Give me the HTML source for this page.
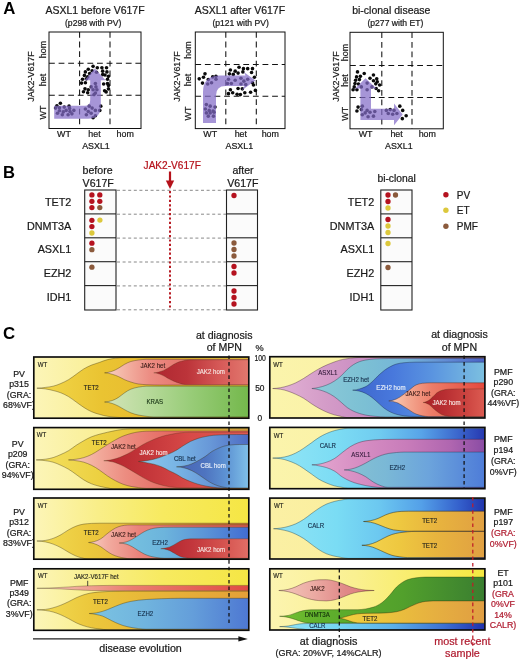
<!DOCTYPE html>
<html><head><meta charset="utf-8"><title>Figure</title>
<style>html,body{margin:0;padding:0;background:#fff}svg{display:block;will-change:transform}text{font-family:"Liberation Sans",sans-serif}</style></head>
<body>
<svg width="520" height="660" viewBox="0 0 520 660">
<rect width="520" height="660" fill="#ffffff"/>
<defs>
<linearGradient id="g1" gradientUnits="userSpaceOnUse" x1="33.8" y1="0" x2="248.8" y2="0"><stop offset="0" stop-color="#fcf5b8"/><stop offset="0.35" stop-color="#f9ee90"/><stop offset="1" stop-color="#f4dc40"/></linearGradient>
<linearGradient id="g2" gradientUnits="userSpaceOnUse" x1="37" y1="0" x2="248.8" y2="0"><stop offset="0" stop-color="#f2d84c"/><stop offset="0.3" stop-color="#eac432"/><stop offset="0.6" stop-color="#e8b92e"/><stop offset="1" stop-color="#f0cc40"/></linearGradient>
<linearGradient id="g3" gradientUnits="userSpaceOnUse" x1="104" y1="0" x2="248.8" y2="0"><stop offset="0" stop-color="#f8d4c4"/><stop offset="0.12" stop-color="#f4b8a8"/><stop offset="0.32" stop-color="#ec8c82"/><stop offset="0.6" stop-color="#e4706a"/><stop offset="1" stop-color="#e26c66"/></linearGradient>
<linearGradient id="g4" gradientUnits="userSpaceOnUse" x1="154" y1="0" x2="248.8" y2="0"><stop offset="0" stop-color="#ae2730"/><stop offset="0.35" stop-color="#bc343a"/><stop offset="0.7" stop-color="#d65a58"/><stop offset="1" stop-color="#e2786e"/></linearGradient>
<linearGradient id="g5" gradientUnits="userSpaceOnUse" x1="104" y1="0" x2="248.8" y2="0"><stop offset="0" stop-color="#d4e4b8"/><stop offset="0.25" stop-color="#bcdca0"/><stop offset="0.6" stop-color="#98cc78"/><stop offset="1" stop-color="#74b84c"/></linearGradient>
<linearGradient id="g6" gradientUnits="userSpaceOnUse" x1="33.8" y1="0" x2="248.8" y2="0"><stop offset="0" stop-color="#fcf5b8"/><stop offset="0.35" stop-color="#f9ee90"/><stop offset="1" stop-color="#f4dc40"/></linearGradient>
<linearGradient id="g7" gradientUnits="userSpaceOnUse" x1="37" y1="0" x2="248.8" y2="0"><stop offset="0" stop-color="#f4e060"/><stop offset="0.3" stop-color="#ecd040"/><stop offset="0.55" stop-color="#e8c038"/><stop offset="1" stop-color="#e8a848"/></linearGradient>
<linearGradient id="g8" gradientUnits="userSpaceOnUse" x1="68" y1="0" x2="248.8" y2="0"><stop offset="0" stop-color="#f8d0c0"/><stop offset="0.12" stop-color="#f4b4a4"/><stop offset="0.32" stop-color="#ec8c80"/><stop offset="0.6" stop-color="#e4645e"/><stop offset="1" stop-color="#e05a54"/></linearGradient>
<linearGradient id="g9" gradientUnits="userSpaceOnUse" x1="104" y1="0" x2="248.8" y2="0"><stop offset="0" stop-color="#b4262e"/><stop offset="0.3" stop-color="#c4363a"/><stop offset="0.6" stop-color="#d84a48"/><stop offset="1" stop-color="#e05852"/></linearGradient>
<linearGradient id="g10" gradientUnits="userSpaceOnUse" x1="138" y1="0" x2="248.8" y2="0"><stop offset="0" stop-color="#8cc8ec"/><stop offset="0.35" stop-color="#78b4e4"/><stop offset="0.65" stop-color="#6898d8"/><stop offset="1" stop-color="#4e6cc4"/></linearGradient>
<linearGradient id="g11" gradientUnits="userSpaceOnUse" x1="176" y1="0" x2="248.8" y2="0"><stop offset="0" stop-color="#4864b4"/><stop offset="0.4" stop-color="#4e74c0"/><stop offset="0.7" stop-color="#5e94d4"/><stop offset="1" stop-color="#80c0e8"/></linearGradient>
<linearGradient id="g12" gradientUnits="userSpaceOnUse" x1="33.8" y1="0" x2="248.8" y2="0"><stop offset="0" stop-color="#fcf5b8"/><stop offset="0.3" stop-color="#f9ee88"/><stop offset="0.6" stop-color="#f7ea60"/><stop offset="1" stop-color="#f5e644"/></linearGradient>
<linearGradient id="g13" gradientUnits="userSpaceOnUse" x1="37" y1="0" x2="248.8" y2="0"><stop offset="0" stop-color="#f2dc54"/><stop offset="0.25" stop-color="#ecc83c"/><stop offset="0.5" stop-color="#e6b43a"/><stop offset="1" stop-color="#c8643a"/></linearGradient>
<linearGradient id="g14" gradientUnits="userSpaceOnUse" x1="88" y1="0" x2="248.8" y2="0"><stop offset="0" stop-color="#f8d0c4"/><stop offset="0.12" stop-color="#f2aca0"/><stop offset="0.32" stop-color="#ea827a"/><stop offset="1" stop-color="#dc5a50"/></linearGradient>
<linearGradient id="g15" gradientUnits="userSpaceOnUse" x1="119" y1="0" x2="248.8" y2="0"><stop offset="0" stop-color="#78c4e0"/><stop offset="0.35" stop-color="#6cb4dc"/><stop offset="0.65" stop-color="#5c96d8"/><stop offset="1" stop-color="#416cd2"/></linearGradient>
<linearGradient id="g16" gradientUnits="userSpaceOnUse" x1="161" y1="0" x2="248.8" y2="0"><stop offset="0" stop-color="#b2262e"/><stop offset="0.35" stop-color="#c2363c"/><stop offset="0.7" stop-color="#d4524e"/><stop offset="1" stop-color="#e26e66"/></linearGradient>
<linearGradient id="g17" gradientUnits="userSpaceOnUse" x1="33.8" y1="0" x2="248.8" y2="0"><stop offset="0" stop-color="#fcf5b8"/><stop offset="0.3" stop-color="#f9ee88"/><stop offset="0.6" stop-color="#f7ea60"/><stop offset="1" stop-color="#f5e644"/></linearGradient>
<linearGradient id="g18" gradientUnits="userSpaceOnUse" x1="37" y1="0" x2="248.8" y2="0"><stop offset="0" stop-color="#f2dc54"/><stop offset="0.25" stop-color="#ecc83c"/><stop offset="0.5" stop-color="#e8b838"/><stop offset="1" stop-color="#e4a038"/></linearGradient>
<linearGradient id="g19" gradientUnits="userSpaceOnUse" x1="37" y1="0" x2="248.8" y2="0"><stop offset="0" stop-color="#f6d0c0"/><stop offset="0.2" stop-color="#f0a898"/><stop offset="0.45" stop-color="#ea7c70"/><stop offset="1" stop-color="#e04c44"/></linearGradient>
<linearGradient id="g20" gradientUnits="userSpaceOnUse" x1="89" y1="0" x2="248.8" y2="0"><stop offset="0" stop-color="#7cc4e2"/><stop offset="0.35" stop-color="#70b4de"/><stop offset="0.65" stop-color="#649eda"/><stop offset="1" stop-color="#4e78d2"/></linearGradient>
<linearGradient id="g21" gradientUnits="userSpaceOnUse" x1="269.8" y1="0" x2="484.9" y2="0"><stop offset="0" stop-color="#fbf4ac"/><stop offset="1" stop-color="#f9ee98"/></linearGradient>
<linearGradient id="g22" gradientUnits="userSpaceOnUse" x1="272" y1="0" x2="484.9" y2="0"><stop offset="0" stop-color="#e4b4d6"/><stop offset="0.25" stop-color="#d49cc8"/><stop offset="0.5" stop-color="#c688c0"/><stop offset="1" stop-color="#8060b0"/></linearGradient>
<linearGradient id="g23" gradientUnits="userSpaceOnUse" x1="312" y1="0" x2="484.9" y2="0"><stop offset="0" stop-color="#8ccad8"/><stop offset="0.3" stop-color="#7cc0d4"/><stop offset="0.55" stop-color="#74b4d8"/><stop offset="0.8" stop-color="#6088d4"/><stop offset="1" stop-color="#4a62c4"/></linearGradient>
<linearGradient id="g24" gradientUnits="userSpaceOnUse" x1="353" y1="0" x2="484.9" y2="0"><stop offset="0" stop-color="#3e66cc"/><stop offset="0.3" stop-color="#4878dc"/><stop offset="0.6" stop-color="#5a94e0"/><stop offset="1" stop-color="#7cc0e0"/></linearGradient>
<linearGradient id="g25" gradientUnits="userSpaceOnUse" x1="389" y1="0" x2="484.9" y2="0"><stop offset="0" stop-color="#fad4bc"/><stop offset="0.2" stop-color="#f4a890"/><stop offset="0.45" stop-color="#ec7c68"/><stop offset="1" stop-color="#e4483c"/></linearGradient>
<linearGradient id="g26" gradientUnits="userSpaceOnUse" x1="423" y1="0" x2="484.9" y2="0"><stop offset="0" stop-color="#a82228"/><stop offset="0.35" stop-color="#b82e32"/><stop offset="0.7" stop-color="#cc4440"/><stop offset="1" stop-color="#dc5c52"/></linearGradient>
<linearGradient id="g27" gradientUnits="userSpaceOnUse" x1="269.8" y1="0" x2="484.9" y2="0"><stop offset="0" stop-color="#fbf4ac"/><stop offset="1" stop-color="#f9ee98"/></linearGradient>
<linearGradient id="g28" gradientUnits="userSpaceOnUse" x1="273" y1="0" x2="484.9" y2="0"><stop offset="0" stop-color="#92e6f6"/><stop offset="0.3" stop-color="#7cdcf4"/><stop offset="0.5" stop-color="#70ccf0"/><stop offset="0.7" stop-color="#58a4e8"/><stop offset="0.88" stop-color="#3a64cc"/><stop offset="1" stop-color="#2638b0"/></linearGradient>
<linearGradient id="g29" gradientUnits="userSpaceOnUse" x1="312" y1="0" x2="484.9" y2="0"><stop offset="0" stop-color="#e4a8d0"/><stop offset="0.25" stop-color="#d890c4"/><stop offset="0.55" stop-color="#c87cba"/><stop offset="0.8" stop-color="#b066b0"/><stop offset="1" stop-color="#8a4ca4"/></linearGradient>
<linearGradient id="g30" gradientUnits="userSpaceOnUse" x1="344" y1="0" x2="484.9" y2="0"><stop offset="0" stop-color="#86c2d2"/><stop offset="0.3" stop-color="#7ab8d6"/><stop offset="0.6" stop-color="#6ca4dc"/><stop offset="1" stop-color="#4e7cd8"/></linearGradient>
<linearGradient id="g31" gradientUnits="userSpaceOnUse" x1="269.8" y1="0" x2="484.9" y2="0"><stop offset="0" stop-color="#fbf0a4"/><stop offset="1" stop-color="#f9ea90"/></linearGradient>
<linearGradient id="g32" gradientUnits="userSpaceOnUse" x1="273" y1="0" x2="484.9" y2="0"><stop offset="0" stop-color="#90e4f6"/><stop offset="0.3" stop-color="#7adcf4"/><stop offset="0.5" stop-color="#6cc8f0"/><stop offset="0.7" stop-color="#54a0e8"/><stop offset="0.88" stop-color="#3460cc"/><stop offset="1" stop-color="#2034ac"/></linearGradient>
<linearGradient id="g33" gradientUnits="userSpaceOnUse" x1="363" y1="0" x2="484.9" y2="0"><stop offset="0" stop-color="#f4d450"/><stop offset="0.3" stop-color="#eec840"/><stop offset="0.6" stop-color="#e8b43e"/><stop offset="1" stop-color="#e0a042"/></linearGradient>
<linearGradient id="g34" gradientUnits="userSpaceOnUse" x1="362" y1="0" x2="484.9" y2="0"><stop offset="0" stop-color="#f4d450"/><stop offset="0.3" stop-color="#eec840"/><stop offset="0.6" stop-color="#e8b43e"/><stop offset="1" stop-color="#e0a042"/></linearGradient>
<linearGradient id="g35" gradientUnits="userSpaceOnUse" x1="269.8" y1="0" x2="484.9" y2="0"><stop offset="0" stop-color="#fcf4b0"/><stop offset="0.4" stop-color="#faf090"/><stop offset="0.75" stop-color="#f8ec60"/><stop offset="1" stop-color="#f5e840"/></linearGradient>
<linearGradient id="g36" gradientUnits="userSpaceOnUse" x1="279" y1="0" x2="374" y2="0"><stop offset="0" stop-color="#f4c8bc"/><stop offset="0.35" stop-color="#ecaca4"/><stop offset="0.7" stop-color="#e08888"/><stop offset="1" stop-color="#dc7c7c"/></linearGradient>
<linearGradient id="g37" gradientUnits="userSpaceOnUse" x1="280" y1="0" x2="484.9" y2="0"><stop offset="0" stop-color="#74c030"/><stop offset="0.2" stop-color="#60b02c"/><stop offset="0.6" stop-color="#52a02c"/><stop offset="1" stop-color="#3a7e30"/></linearGradient>
<linearGradient id="g38" gradientUnits="userSpaceOnUse" x1="339" y1="0" x2="484.9" y2="0"><stop offset="0" stop-color="#f0d040"/><stop offset="0.3" stop-color="#ecc43c"/><stop offset="0.65" stop-color="#e6b040"/><stop offset="1" stop-color="#e09e42"/></linearGradient>
<linearGradient id="g39" gradientUnits="userSpaceOnUse" x1="280" y1="0" x2="484.9" y2="0"><stop offset="0" stop-color="#90e4f6"/><stop offset="0.3" stop-color="#74d4f2"/><stop offset="0.55" stop-color="#5cb0ea"/><stop offset="0.8" stop-color="#3c70d4"/><stop offset="1" stop-color="#2030ac"/></linearGradient>
<clipPath id="cL0"><rect x="33.8" y="357" width="215.0" height="61.2"/></clipPath>
<clipPath id="cR0"><rect x="269.8" y="356.7" width="215.1" height="61.3"/></clipPath>
<clipPath id="cL1"><rect x="33.8" y="427.6" width="215.0" height="61.7"/></clipPath>
<clipPath id="cR1"><rect x="269.8" y="427.4" width="215.1" height="61.3"/></clipPath>
<clipPath id="cL2"><rect x="33.8" y="498" width="215.0" height="61.2"/></clipPath>
<clipPath id="cR2"><rect x="269.8" y="498.1" width="215.1" height="60.9"/></clipPath>
<clipPath id="cL3"><rect x="33.8" y="568.8" width="215.0" height="61.5"/></clipPath>
<clipPath id="cR3"><rect x="269.8" y="568.8" width="215.1" height="61.2"/></clipPath>
</defs>
<text x="3.2" y="13.7" font-size="16.8" text-anchor="start" fill="#000" font-weight="bold" >A</text>
<text x="95" y="13.6" font-size="10.5" text-anchor="middle" fill="#1a1a1a" font-weight="normal" stroke="#1a1a1a" stroke-width="0.22" >ASXL1 before V617F</text>
<text x="93.2" y="25.8" font-size="8.6" text-anchor="middle" fill="#1a1a1a" font-weight="normal" stroke="#1a1a1a" stroke-width="0.22" >(p298 with PV)</text>
<rect x="49" y="32" width="92.0" height="96.5" fill="#fff" stroke="#111" stroke-width="1"/>
<line x1="79.6" y1="32" x2="79.6" y2="128.5" stroke="#111" stroke-width="1.05" stroke-dasharray="5.8 3.8"/>
<line x1="110" y1="32" x2="110" y2="128.5" stroke="#111" stroke-width="1.05" stroke-dasharray="5.8 3.8"/>
<line x1="49" y1="63.3" x2="141" y2="63.3" stroke="#111" stroke-width="1.05" stroke-dasharray="5.8 3.8"/>
<line x1="49" y1="95.3" x2="141" y2="95.3" stroke="#111" stroke-width="1.05" stroke-dasharray="5.8 3.8"/>
<text x="64.0" y="137.2" font-size="8.9" text-anchor="middle" fill="#1a1a1a" font-weight="normal" stroke="#1a1a1a" stroke-width="0.22" >WT</text>
<text x="94.5" y="137.2" font-size="8.9" text-anchor="middle" fill="#1a1a1a" font-weight="normal" stroke="#1a1a1a" stroke-width="0.22" >het</text>
<text x="125.2" y="137.2" font-size="8.9" text-anchor="middle" fill="#1a1a1a" font-weight="normal" stroke="#1a1a1a" stroke-width="0.22" >hom</text>
<text x="96" y="148.7" font-size="8.9" text-anchor="middle" fill="#1a1a1a" font-weight="normal" stroke="#1a1a1a" stroke-width="0.22" >ASXL1</text>
<text transform="translate(45.6,112.5) rotate(-90)" font-size="8.9" text-anchor="middle" fill="#1a1a1a" stroke="#1a1a1a" stroke-width="0.22">WT</text>
<text transform="translate(45.6,80) rotate(-90)" font-size="8.9" text-anchor="middle" fill="#1a1a1a" stroke="#1a1a1a" stroke-width="0.22">het</text>
<text transform="translate(45.6,49.5) rotate(-90)" font-size="8.9" text-anchor="middle" fill="#1a1a1a" stroke="#1a1a1a" stroke-width="0.22">hom</text>
<text transform="translate(34,76.5) rotate(-90)" font-size="8.9" text-anchor="middle" fill="#1a1a1a" stroke="#1a1a1a" stroke-width="0.22">JAK2-V617F</text>
<text x="239.9" y="13.6" font-size="10.5" text-anchor="middle" fill="#1a1a1a" font-weight="normal" stroke="#1a1a1a" stroke-width="0.22" >ASXL1 after V617F</text>
<text x="240.6" y="25.8" font-size="8.6" text-anchor="middle" fill="#1a1a1a" font-weight="normal" stroke="#1a1a1a" stroke-width="0.22" >(p121 with PV)</text>
<rect x="195.3" y="32" width="89.7" height="96.6" fill="#fff" stroke="#111" stroke-width="1"/>
<line x1="225.8" y1="32" x2="225.8" y2="128.6" stroke="#111" stroke-width="1.05" stroke-dasharray="5.8 3.8"/>
<line x1="256.3" y1="32" x2="256.3" y2="128.6" stroke="#111" stroke-width="1.05" stroke-dasharray="5.8 3.8"/>
<line x1="195.3" y1="64.5" x2="285" y2="64.5" stroke="#111" stroke-width="1.05" stroke-dasharray="5.8 3.8"/>
<line x1="195.3" y1="96.3" x2="285" y2="96.3" stroke="#111" stroke-width="1.05" stroke-dasharray="5.8 3.8"/>
<text x="210.2" y="137.2" font-size="8.9" text-anchor="middle" fill="#1a1a1a" font-weight="normal" stroke="#1a1a1a" stroke-width="0.22" >WT</text>
<text x="240.8" y="137.2" font-size="8.9" text-anchor="middle" fill="#1a1a1a" font-weight="normal" stroke="#1a1a1a" stroke-width="0.22" >het</text>
<text x="270.3" y="137.2" font-size="8.9" text-anchor="middle" fill="#1a1a1a" font-weight="normal" stroke="#1a1a1a" stroke-width="0.22" >hom</text>
<text x="239.3" y="148.7" font-size="8.9" text-anchor="middle" fill="#1a1a1a" font-weight="normal" stroke="#1a1a1a" stroke-width="0.22" >ASXL1</text>
<text transform="translate(191.2,113.5) rotate(-90)" font-size="8.9" text-anchor="middle" fill="#1a1a1a" stroke="#1a1a1a" stroke-width="0.22">WT</text>
<text transform="translate(191.2,80) rotate(-90)" font-size="8.9" text-anchor="middle" fill="#1a1a1a" stroke="#1a1a1a" stroke-width="0.22">het</text>
<text transform="translate(191.2,50) rotate(-90)" font-size="8.9" text-anchor="middle" fill="#1a1a1a" stroke="#1a1a1a" stroke-width="0.22">hom</text>
<text transform="translate(179.5,76.5) rotate(-90)" font-size="8.9" text-anchor="middle" fill="#1a1a1a" stroke="#1a1a1a" stroke-width="0.22">JAK2-V617F</text>
<text x="391.3" y="13.6" font-size="10.5" text-anchor="middle" fill="#1a1a1a" font-weight="normal" stroke="#1a1a1a" stroke-width="0.22" >bi-clonal disease</text>
<text x="395.4" y="25.8" font-size="8.6" text-anchor="middle" fill="#1a1a1a" font-weight="normal" stroke="#1a1a1a" stroke-width="0.22" >(p277 with ET)</text>
<rect x="350" y="32.3" width="93.3" height="96.5" fill="#fff" stroke="#111" stroke-width="1"/>
<line x1="381.8" y1="32.3" x2="381.8" y2="128.8" stroke="#111" stroke-width="1.05" stroke-dasharray="5.8 3.8"/>
<line x1="412" y1="32.3" x2="412" y2="128.8" stroke="#111" stroke-width="1.05" stroke-dasharray="5.8 3.8"/>
<line x1="350" y1="65.5" x2="443.3" y2="65.5" stroke="#111" stroke-width="1.05" stroke-dasharray="5.8 3.8"/>
<line x1="350" y1="97.5" x2="443.3" y2="97.5" stroke="#111" stroke-width="1.05" stroke-dasharray="5.8 3.8"/>
<text x="365.6" y="137.2" font-size="8.9" text-anchor="middle" fill="#1a1a1a" font-weight="normal" stroke="#1a1a1a" stroke-width="0.22" >WT</text>
<text x="396.6" y="137.2" font-size="8.9" text-anchor="middle" fill="#1a1a1a" font-weight="normal" stroke="#1a1a1a" stroke-width="0.22" >het</text>
<text x="427.3" y="137.2" font-size="8.9" text-anchor="middle" fill="#1a1a1a" font-weight="normal" stroke="#1a1a1a" stroke-width="0.22" >hom</text>
<text x="398.8" y="148.7" font-size="8.9" text-anchor="middle" fill="#1a1a1a" font-weight="normal" stroke="#1a1a1a" stroke-width="0.22" >ASXL1</text>
<text transform="translate(348,113.8) rotate(-90)" font-size="8.9" text-anchor="middle" fill="#1a1a1a" stroke="#1a1a1a" stroke-width="0.22">WT</text>
<text transform="translate(348,80.5) rotate(-90)" font-size="8.9" text-anchor="middle" fill="#1a1a1a" stroke="#1a1a1a" stroke-width="0.22">het</text>
<text transform="translate(348,52.5) rotate(-90)" font-size="8.9" text-anchor="middle" fill="#1a1a1a" stroke="#1a1a1a" stroke-width="0.22">hom</text>
<text transform="translate(338.8,76.5) rotate(-90)" font-size="8.9" text-anchor="middle" fill="#1a1a1a" stroke="#1a1a1a" stroke-width="0.22">JAK2-V617F</text>
<circle cx="93.08" cy="66.35" r="1.8" fill="#0a0a0a"/>
<circle cx="97.31" cy="67.69" r="1.8" fill="#0a0a0a"/>
<circle cx="101.92" cy="67.69" r="1.8" fill="#0a0a0a"/>
<circle cx="106.54" cy="67.69" r="1.8" fill="#0a0a0a"/>
<circle cx="88.27" cy="69.23" r="1.8" fill="#0a0a0a"/>
<circle cx="92.12" cy="70.77" r="1.8" fill="#0a0a0a"/>
<circle cx="102.69" cy="71.15" r="1.8" fill="#0a0a0a"/>
<circle cx="106.92" cy="71.92" r="1.8" fill="#0a0a0a"/>
<circle cx="85.38" cy="71.92" r="1.8" fill="#0a0a0a"/>
<circle cx="89.62" cy="73.46" r="1.8" fill="#0a0a0a"/>
<circle cx="96.54" cy="72.31" r="1.8" fill="#0a0a0a"/>
<circle cx="105.00" cy="75.00" r="1.8" fill="#0a0a0a"/>
<circle cx="108.46" cy="76.35" r="1.8" fill="#0a0a0a"/>
<circle cx="84.42" cy="75.38" r="1.8" fill="#0a0a0a"/>
<circle cx="87.69" cy="76.92" r="1.8" fill="#0a0a0a"/>
<circle cx="102.69" cy="74.62" r="1.8" fill="#0a0a0a"/>
<circle cx="82.50" cy="79.23" r="1.8" fill="#0a0a0a"/>
<circle cx="86.35" cy="78.85" r="1.8" fill="#0a0a0a"/>
<circle cx="107.50" cy="79.23" r="1.8" fill="#0a0a0a"/>
<circle cx="81.54" cy="83.08" r="1.8" fill="#0a0a0a"/>
<circle cx="85.38" cy="82.69" r="1.8" fill="#0a0a0a"/>
<circle cx="95.38" cy="83.46" r="1.8" fill="#0a0a0a"/>
<circle cx="103.65" cy="84.04" r="1.8" fill="#0a0a0a"/>
<circle cx="107.50" cy="83.46" r="1.8" fill="#0a0a0a"/>
<circle cx="91.15" cy="86.92" r="1.8" fill="#0a0a0a"/>
<circle cx="95.96" cy="86.92" r="1.8" fill="#0a0a0a"/>
<circle cx="108.46" cy="85.38" r="1.8" fill="#0a0a0a"/>
<circle cx="85.00" cy="88.85" r="1.8" fill="#0a0a0a"/>
<circle cx="88.27" cy="89.81" r="1.8" fill="#0a0a0a"/>
<circle cx="93.08" cy="89.81" r="1.8" fill="#0a0a0a"/>
<circle cx="96.92" cy="89.81" r="1.8" fill="#0a0a0a"/>
<circle cx="104.62" cy="90.77" r="1.8" fill="#0a0a0a"/>
<circle cx="108.46" cy="88.85" r="1.8" fill="#0a0a0a"/>
<circle cx="83.46" cy="91.73" r="1.8" fill="#0a0a0a"/>
<circle cx="87.69" cy="92.69" r="1.8" fill="#0a0a0a"/>
<circle cx="95.38" cy="93.08" r="1.8" fill="#0a0a0a"/>
<circle cx="106.15" cy="91.92" r="1.8" fill="#0a0a0a"/>
<circle cx="94.04" cy="94.62" r="1.8" fill="#0a0a0a"/>
<circle cx="60.38" cy="103.27" r="1.8" fill="#0a0a0a"/>
<circle cx="56.92" cy="105.77" r="1.8" fill="#0a0a0a"/>
<circle cx="69.04" cy="106.15" r="1.8" fill="#0a0a0a"/>
<circle cx="55.58" cy="108.08" r="1.8" fill="#0a0a0a"/>
<circle cx="59.42" cy="107.69" r="1.8" fill="#0a0a0a"/>
<circle cx="64.23" cy="107.12" r="1.8" fill="#0a0a0a"/>
<circle cx="69.62" cy="108.46" r="1.8" fill="#0a0a0a"/>
<circle cx="100.77" cy="106.15" r="1.8" fill="#0a0a0a"/>
<circle cx="99.81" cy="110.38" r="1.8" fill="#0a0a0a"/>
<circle cx="95.38" cy="115.77" r="1.8" fill="#0a0a0a"/>
<circle cx="93.08" cy="117.69" r="1.8" fill="#0a0a0a"/>
<circle cx="59.42" cy="110.77" r="1.8" fill="#0a0a0a"/>
<circle cx="63.27" cy="111.92" r="1.8" fill="#0a0a0a"/>
<circle cx="66.15" cy="110.38" r="1.8" fill="#0a0a0a"/>
<circle cx="70.00" cy="111.54" r="1.8" fill="#0a0a0a"/>
<circle cx="73.85" cy="110.38" r="1.8" fill="#0a0a0a"/>
<circle cx="57.50" cy="113.27" r="1.8" fill="#0a0a0a"/>
<circle cx="62.31" cy="114.81" r="1.8" fill="#0a0a0a"/>
<circle cx="68.08" cy="114.81" r="1.8" fill="#0a0a0a"/>
<circle cx="71.92" cy="113.85" r="1.8" fill="#0a0a0a"/>
<circle cx="85.38" cy="109.04" r="1.8" fill="#0a0a0a"/>
<circle cx="89.23" cy="106.15" r="1.8" fill="#0a0a0a"/>
<circle cx="92.12" cy="108.08" r="1.8" fill="#0a0a0a"/>
<circle cx="88.27" cy="111.54" r="1.8" fill="#0a0a0a"/>
<circle cx="91.15" cy="113.27" r="1.8" fill="#0a0a0a"/>
<circle cx="95.38" cy="110.38" r="1.8" fill="#0a0a0a"/>
<circle cx="86.35" cy="114.81" r="1.8" fill="#0a0a0a"/>
<path d="M54.2 105.8 H85 Q90.2 105.8 90.2 100 V80.2 H84.4 L94.9 68.4 L105.6 80.2 H100.8 V106 Q100.8 118.7 88 118.7 H54.2 Z" fill="#836cc8" opacity="0.72"/>
<circle cx="205.00" cy="73.85" r="1.8" fill="#0a0a0a"/>
<circle cx="199.23" cy="78.85" r="1.8" fill="#0a0a0a"/>
<circle cx="203.46" cy="77.31" r="1.8" fill="#0a0a0a"/>
<circle cx="202.50" cy="83.08" r="1.8" fill="#0a0a0a"/>
<circle cx="208.27" cy="79.62" r="1.8" fill="#0a0a0a"/>
<circle cx="212.69" cy="76.92" r="1.8" fill="#0a0a0a"/>
<circle cx="215.96" cy="76.35" r="1.8" fill="#0a0a0a"/>
<circle cx="215.96" cy="79.23" r="1.8" fill="#0a0a0a"/>
<circle cx="211.54" cy="82.69" r="1.8" fill="#0a0a0a"/>
<circle cx="207.69" cy="84.04" r="1.8" fill="#0a0a0a"/>
<circle cx="239.04" cy="67.31" r="1.8" fill="#0a0a0a"/>
<circle cx="243.46" cy="68.65" r="1.8" fill="#0a0a0a"/>
<circle cx="247.69" cy="68.65" r="1.8" fill="#0a0a0a"/>
<circle cx="252.50" cy="68.65" r="1.8" fill="#0a0a0a"/>
<circle cx="230.38" cy="70.00" r="1.8" fill="#0a0a0a"/>
<circle cx="235.19" cy="71.15" r="1.8" fill="#0a0a0a"/>
<circle cx="229.42" cy="73.85" r="1.8" fill="#0a0a0a"/>
<circle cx="233.27" cy="74.42" r="1.8" fill="#0a0a0a"/>
<circle cx="238.08" cy="73.08" r="1.8" fill="#0a0a0a"/>
<circle cx="242.88" cy="71.92" r="1.8" fill="#0a0a0a"/>
<circle cx="251.54" cy="72.50" r="1.8" fill="#0a0a0a"/>
<circle cx="254.42" cy="77.31" r="1.8" fill="#0a0a0a"/>
<circle cx="228.46" cy="79.23" r="1.8" fill="#0a0a0a"/>
<circle cx="235.19" cy="80.19" r="1.8" fill="#0a0a0a"/>
<circle cx="240.96" cy="78.27" r="1.8" fill="#0a0a0a"/>
<circle cx="243.85" cy="81.15" r="1.8" fill="#0a0a0a"/>
<circle cx="247.69" cy="79.23" r="1.8" fill="#0a0a0a"/>
<circle cx="227.50" cy="83.46" r="1.8" fill="#0a0a0a"/>
<circle cx="231.35" cy="83.46" r="1.8" fill="#0a0a0a"/>
<circle cx="240.96" cy="84.04" r="1.8" fill="#0a0a0a"/>
<circle cx="245.77" cy="84.62" r="1.8" fill="#0a0a0a"/>
<circle cx="230.38" cy="89.81" r="1.8" fill="#0a0a0a"/>
<circle cx="238.08" cy="88.46" r="1.8" fill="#0a0a0a"/>
<circle cx="242.31" cy="88.85" r="1.8" fill="#0a0a0a"/>
<circle cx="253.46" cy="85.00" r="1.8" fill="#0a0a0a"/>
<circle cx="255.38" cy="90.38" r="1.8" fill="#0a0a0a"/>
<circle cx="228.46" cy="93.65" r="1.8" fill="#0a0a0a"/>
<circle cx="232.69" cy="92.69" r="1.8" fill="#0a0a0a"/>
<circle cx="237.12" cy="94.23" r="1.8" fill="#0a0a0a"/>
<circle cx="240.38" cy="94.62" r="1.8" fill="#0a0a0a"/>
<circle cx="244.81" cy="92.69" r="1.8" fill="#0a0a0a"/>
<circle cx="250.58" cy="92.31" r="1.8" fill="#0a0a0a"/>
<circle cx="252.50" cy="82.69" r="1.8" fill="#0a0a0a"/>
<circle cx="206.35" cy="104.62" r="1.8" fill="#0a0a0a"/>
<circle cx="210.19" cy="106.15" r="1.8" fill="#0a0a0a"/>
<circle cx="215.00" cy="107.12" r="1.8" fill="#0a0a0a"/>
<circle cx="205.38" cy="109.04" r="1.8" fill="#0a0a0a"/>
<circle cx="209.23" cy="110.38" r="1.8" fill="#0a0a0a"/>
<circle cx="213.08" cy="110.96" r="1.8" fill="#0a0a0a"/>
<circle cx="206.35" cy="112.88" r="1.8" fill="#0a0a0a"/>
<circle cx="210.19" cy="112.88" r="1.8" fill="#0a0a0a"/>
<circle cx="214.04" cy="112.31" r="1.8" fill="#0a0a0a"/>
<circle cx="208.27" cy="116.15" r="1.8" fill="#0a0a0a"/>
<circle cx="213.46" cy="116.15" r="1.8" fill="#0a0a0a"/>
<path d="M203 123 V92 Q203 75.4 220 75.4 H245.5 L243.8 72 L255.5 80.5 L241.5 90.5 L244.5 86 H225.5 Q216 86 216 95.5 V123 Z" fill="#836cc8" opacity="0.72"/>
<circle cx="357.50" cy="71.92" r="1.8" fill="#0a0a0a"/>
<circle cx="364.23" cy="73.46" r="1.8" fill="#0a0a0a"/>
<circle cx="373.46" cy="75.00" r="1.8" fill="#0a0a0a"/>
<circle cx="356.54" cy="76.92" r="1.8" fill="#0a0a0a"/>
<circle cx="360.38" cy="76.35" r="1.8" fill="#0a0a0a"/>
<circle cx="370.00" cy="78.27" r="1.8" fill="#0a0a0a"/>
<circle cx="376.73" cy="78.85" r="1.8" fill="#0a0a0a"/>
<circle cx="355.58" cy="80.19" r="1.8" fill="#0a0a0a"/>
<circle cx="359.42" cy="79.62" r="1.8" fill="#0a0a0a"/>
<circle cx="373.46" cy="80.77" r="1.8" fill="#0a0a0a"/>
<circle cx="377.31" cy="81.73" r="1.8" fill="#0a0a0a"/>
<circle cx="355.00" cy="83.46" r="1.8" fill="#0a0a0a"/>
<circle cx="358.46" cy="84.04" r="1.8" fill="#0a0a0a"/>
<circle cx="375.77" cy="83.85" r="1.8" fill="#0a0a0a"/>
<circle cx="379.62" cy="85.00" r="1.8" fill="#0a0a0a"/>
<circle cx="354.23" cy="86.92" r="1.8" fill="#0a0a0a"/>
<circle cx="361.35" cy="86.92" r="1.8" fill="#0a0a0a"/>
<circle cx="371.92" cy="86.92" r="1.8" fill="#0a0a0a"/>
<circle cx="376.15" cy="88.46" r="1.8" fill="#0a0a0a"/>
<circle cx="353.08" cy="89.81" r="1.8" fill="#0a0a0a"/>
<circle cx="356.92" cy="89.81" r="1.8" fill="#0a0a0a"/>
<circle cx="367.12" cy="89.81" r="1.8" fill="#0a0a0a"/>
<circle cx="378.65" cy="90.77" r="1.8" fill="#0a0a0a"/>
<circle cx="367.12" cy="83.08" r="1.8" fill="#0a0a0a"/>
<circle cx="358.08" cy="107.12" r="1.8" fill="#0a0a0a"/>
<circle cx="362.31" cy="106.15" r="1.8" fill="#0a0a0a"/>
<circle cx="399.81" cy="106.15" r="1.8" fill="#0a0a0a"/>
<circle cx="356.92" cy="110.96" r="1.8" fill="#0a0a0a"/>
<circle cx="361.35" cy="109.62" r="1.8" fill="#0a0a0a"/>
<circle cx="367.12" cy="110.38" r="1.8" fill="#0a0a0a"/>
<circle cx="386.35" cy="110.38" r="1.8" fill="#0a0a0a"/>
<circle cx="390.19" cy="109.62" r="1.8" fill="#0a0a0a"/>
<circle cx="394.04" cy="110.38" r="1.8" fill="#0a0a0a"/>
<circle cx="402.69" cy="110.38" r="1.8" fill="#0a0a0a"/>
<circle cx="370.00" cy="112.31" r="1.8" fill="#0a0a0a"/>
<circle cx="374.81" cy="111.54" r="1.8" fill="#0a0a0a"/>
<circle cx="388.27" cy="113.46" r="1.8" fill="#0a0a0a"/>
<circle cx="392.69" cy="114.23" r="1.8" fill="#0a0a0a"/>
<circle cx="396.92" cy="113.46" r="1.8" fill="#0a0a0a"/>
<circle cx="406.15" cy="115.77" r="1.8" fill="#0a0a0a"/>
<circle cx="362.31" cy="114.81" r="1.8" fill="#0a0a0a"/>
<circle cx="368.08" cy="116.73" r="1.8" fill="#0a0a0a"/>
<circle cx="373.46" cy="116.15" r="1.8" fill="#0a0a0a"/>
<circle cx="402.31" cy="118.65" r="1.8" fill="#0a0a0a"/>
<circle cx="365.19" cy="112.88" r="1.8" fill="#0a0a0a"/>
<path d="M360.4 88.5 H355 L365.5 78.3 L376.5 88.5 H371 V108.8 H394 V103.5 L402.7 114.5 L394 125.2 V120 H360.4 Z" fill="#836cc8" opacity="0.72"/>
<text x="2.9" y="178.4" font-size="16.6" text-anchor="start" fill="#000" font-weight="bold" >B</text>
<text x="71.3" y="205.6" font-size="10.8" text-anchor="end" fill="#1a1a1a" font-weight="normal" stroke="#1a1a1a" stroke-width="0.22" >TET2</text>
<text x="374.2" y="205.6" font-size="10.8" text-anchor="end" fill="#1a1a1a" font-weight="normal" stroke="#1a1a1a" stroke-width="0.22" >TET2</text>
<text x="71.3" y="229.5" font-size="10.8" text-anchor="end" fill="#1a1a1a" font-weight="normal" stroke="#1a1a1a" stroke-width="0.22" >DNMT3A</text>
<text x="374.2" y="229.5" font-size="10.8" text-anchor="end" fill="#1a1a1a" font-weight="normal" stroke="#1a1a1a" stroke-width="0.22" >DNMT3A</text>
<text x="71.3" y="253.4" font-size="10.8" text-anchor="end" fill="#1a1a1a" font-weight="normal" stroke="#1a1a1a" stroke-width="0.22" >ASXL1</text>
<text x="374.2" y="253.4" font-size="10.8" text-anchor="end" fill="#1a1a1a" font-weight="normal" stroke="#1a1a1a" stroke-width="0.22" >ASXL1</text>
<text x="71.3" y="277.3" font-size="10.8" text-anchor="end" fill="#1a1a1a" font-weight="normal" stroke="#1a1a1a" stroke-width="0.22" >EZH2</text>
<text x="374.2" y="277.3" font-size="10.8" text-anchor="end" fill="#1a1a1a" font-weight="normal" stroke="#1a1a1a" stroke-width="0.22" >EZH2</text>
<text x="71.3" y="301.20000000000005" font-size="10.8" text-anchor="end" fill="#1a1a1a" font-weight="normal" stroke="#1a1a1a" stroke-width="0.22" >IDH1</text>
<text x="374.2" y="301.20000000000005" font-size="10.8" text-anchor="end" fill="#1a1a1a" font-weight="normal" stroke="#1a1a1a" stroke-width="0.22" >IDH1</text>
<text x="97.6" y="174.4" font-size="10.6" text-anchor="middle" fill="#1a1a1a" font-weight="normal" stroke="#1a1a1a" stroke-width="0.22" >before</text>
<text x="98.2" y="187.4" font-size="10.6" text-anchor="middle" fill="#1a1a1a" font-weight="normal" stroke="#1a1a1a" stroke-width="0.22" >V617F</text>
<text x="243" y="174.2" font-size="10.6" text-anchor="middle" fill="#1a1a1a" font-weight="normal" stroke="#1a1a1a" stroke-width="0.22" >after</text>
<text x="242.8" y="187.3" font-size="10.6" text-anchor="middle" fill="#1a1a1a" font-weight="normal" stroke="#1a1a1a" stroke-width="0.22" >V617F</text>
<text x="396.6" y="182" font-size="10.3" text-anchor="middle" fill="#1a1a1a" font-weight="normal" stroke="#1a1a1a" stroke-width="0.22" >bi-clonal</text>
<text x="172.2" y="168.6" font-size="10.1" text-anchor="middle" fill="#b5121b" font-weight="normal" stroke="#b5121b" stroke-width="0.22" >JAK2-V617F</text>
<line x1="117" y1="190.3" x2="226" y2="190.3" stroke="#7c7c7c" stroke-width="0.9" stroke-dasharray="3 2.6"/>
<line x1="117" y1="214.20000000000002" x2="226" y2="214.20000000000002" stroke="#7c7c7c" stroke-width="0.9" stroke-dasharray="3 2.6"/>
<line x1="117" y1="238.10000000000002" x2="226" y2="238.10000000000002" stroke="#7c7c7c" stroke-width="0.9" stroke-dasharray="3 2.6"/>
<line x1="117" y1="262.0" x2="226" y2="262.0" stroke="#7c7c7c" stroke-width="0.9" stroke-dasharray="3 2.6"/>
<line x1="117" y1="285.90000000000003" x2="226" y2="285.90000000000003" stroke="#7c7c7c" stroke-width="0.9" stroke-dasharray="3 2.6"/>
<line x1="117" y1="309.8" x2="226" y2="309.8" stroke="#7c7c7c" stroke-width="0.9" stroke-dasharray="3 2.6"/>
<rect x="84.7" y="190" width="31.3" height="120.0" fill="#fbfbfb" stroke="#222" stroke-width="1.1"/>
<line x1="84.7" y1="213.9" x2="116.0" y2="213.9" stroke="#222" stroke-width="1.1"/>
<line x1="84.7" y1="237.8" x2="116.0" y2="237.8" stroke="#222" stroke-width="1.1"/>
<line x1="84.7" y1="261.7" x2="116.0" y2="261.7" stroke="#222" stroke-width="1.1"/>
<line x1="84.7" y1="285.6" x2="116.0" y2="285.6" stroke="#222" stroke-width="1.1"/>
<rect x="226.5" y="190" width="31" height="120.0" fill="#fbfbfb" stroke="#222" stroke-width="1.1"/>
<line x1="226.5" y1="213.9" x2="257.5" y2="213.9" stroke="#222" stroke-width="1.1"/>
<line x1="226.5" y1="237.8" x2="257.5" y2="237.8" stroke="#222" stroke-width="1.1"/>
<line x1="226.5" y1="261.7" x2="257.5" y2="261.7" stroke="#222" stroke-width="1.1"/>
<line x1="226.5" y1="285.6" x2="257.5" y2="285.6" stroke="#222" stroke-width="1.1"/>
<rect x="380.8" y="190" width="31.2" height="120.0" fill="#fbfbfb" stroke="#222" stroke-width="1.1"/>
<line x1="380.8" y1="213.9" x2="412.0" y2="213.9" stroke="#222" stroke-width="1.1"/>
<line x1="380.8" y1="237.8" x2="412.0" y2="237.8" stroke="#222" stroke-width="1.1"/>
<line x1="380.8" y1="261.7" x2="412.0" y2="261.7" stroke="#222" stroke-width="1.1"/>
<line x1="380.8" y1="285.6" x2="412.0" y2="285.6" stroke="#222" stroke-width="1.1"/>
<line x1="170" y1="191" x2="170" y2="310" stroke="#b5121b" stroke-width="1.9" stroke-dasharray="2.2 2.2"/>
<path d="M170 171.5 V184" stroke="#b5121b" stroke-width="2.2" fill="none"/><polygon points="165.8,180.5 170,189 174.2,180.5" fill="#b5121b"/>
<circle cx="91.9" cy="194.9" r="2.65" fill="#b5121f"/>
<circle cx="99.8" cy="194.9" r="2.65" fill="#b5121f"/>
<circle cx="91.9" cy="201.3" r="2.65" fill="#b5121f"/>
<circle cx="99.8" cy="201.3" r="2.65" fill="#b5121f"/>
<circle cx="91.9" cy="207.6" r="2.65" fill="#b5121f"/>
<circle cx="99.8" cy="207.6" r="2.65" fill="#8b5a3c"/>
<circle cx="91.9" cy="220.3" r="2.65" fill="#b5121f"/>
<circle cx="99.9" cy="220.1" r="2.65" fill="#dcc83c"/>
<circle cx="91.9" cy="226.6" r="2.65" fill="#b5121f"/>
<circle cx="91.9" cy="233" r="2.65" fill="#dcc83c"/>
<circle cx="91.9" cy="243.2" r="2.65" fill="#b5121f"/>
<circle cx="91.9" cy="249.7" r="2.65" fill="#8b5a3c"/>
<circle cx="91.9" cy="267.2" r="2.65" fill="#8b5a3c"/>
<circle cx="234" cy="195.5" r="2.65" fill="#b5121f"/>
<circle cx="234" cy="243" r="2.65" fill="#8b5a3c"/>
<circle cx="234" cy="249.5" r="2.65" fill="#8b5a3c"/>
<circle cx="234" cy="256" r="2.65" fill="#8b5a3c"/>
<circle cx="234" cy="266.5" r="2.65" fill="#b5121f"/>
<circle cx="234" cy="273" r="2.65" fill="#b5121f"/>
<circle cx="234" cy="291" r="2.65" fill="#b5121f"/>
<circle cx="234" cy="297.5" r="2.65" fill="#b5121f"/>
<circle cx="234" cy="304" r="2.65" fill="#b5121f"/>
<circle cx="388" cy="195" r="2.65" fill="#b5121f"/>
<circle cx="395.5" cy="195" r="2.65" fill="#8b5a3c"/>
<circle cx="388" cy="201.5" r="2.65" fill="#b5121f"/>
<circle cx="388" cy="208" r="2.65" fill="#dcc83c"/>
<circle cx="388" cy="219.5" r="2.65" fill="#b5121f"/>
<circle cx="388" cy="226" r="2.65" fill="#dcc83c"/>
<circle cx="388" cy="232.5" r="2.65" fill="#dcc83c"/>
<circle cx="388" cy="243.5" r="2.65" fill="#dcc83c"/>
<circle cx="388" cy="267.5" r="2.65" fill="#8b5a3c"/>
<circle cx="445.9" cy="194.7" r="2.7" fill="#b5121f"/>
<text x="456.8" y="198.5" font-size="10" text-anchor="start" fill="#1a1a1a" font-weight="normal" stroke="#1a1a1a" stroke-width="0.22" >PV</text>
<circle cx="445.9" cy="210.3" r="2.7" fill="#dcc83c"/>
<text x="456.8" y="214.10000000000002" font-size="10" text-anchor="start" fill="#1a1a1a" font-weight="normal" stroke="#1a1a1a" stroke-width="0.22" >ET</text>
<circle cx="445.9" cy="226.2" r="2.7" fill="#8b5a3c"/>
<text x="456.8" y="230.0" font-size="10" text-anchor="start" fill="#1a1a1a" font-weight="normal" stroke="#1a1a1a" stroke-width="0.22" >PMF</text>
<text x="3" y="339.3" font-size="16.8" text-anchor="start" fill="#000" font-weight="bold" >C</text>
<text x="224.2" y="338.6" font-size="10.6" text-anchor="middle" fill="#1a1a1a" font-weight="normal" stroke="#1a1a1a" stroke-width="0.22" >at diagnosis</text>
<text x="224.3" y="351.3" font-size="10.6" text-anchor="middle" fill="#1a1a1a" font-weight="normal" stroke="#1a1a1a" stroke-width="0.22" >of MPN</text>
<text x="459.5" y="338.3" font-size="10.6" text-anchor="middle" fill="#1a1a1a" font-weight="normal" stroke="#1a1a1a" stroke-width="0.22" >at diagnosis</text>
<text x="459.4" y="351" font-size="10.6" text-anchor="middle" fill="#1a1a1a" font-weight="normal" stroke="#1a1a1a" stroke-width="0.22" >of MPN</text>
<text x="259.6" y="351.3" font-size="9.2" text-anchor="middle" fill="#1a1a1a" font-weight="normal" stroke="#1a1a1a" stroke-width="0.22" >%</text>
<text x="260.2" y="361.3" font-size="8.4" text-anchor="middle" fill="#1a1a1a" font-weight="normal" stroke="#1a1a1a" stroke-width="0.22" textLength="11.4" lengthAdjust="spacingAndGlyphs">100</text>
<text x="259.8" y="391" font-size="8.4" text-anchor="middle" fill="#1a1a1a" font-weight="normal" stroke="#1a1a1a" stroke-width="0.22" >50</text>
<text x="259.8" y="420.6" font-size="8.4" text-anchor="middle" fill="#1a1a1a" font-weight="normal" stroke="#1a1a1a" stroke-width="0.22" >0</text>
<text x="19" y="376.8" font-size="8.8" text-anchor="middle" fill="#1a1a1a" font-weight="normal" stroke="#1a1a1a" stroke-width="0.22" >PV</text>
<text x="19" y="387.3" font-size="8.8" text-anchor="middle" fill="#1a1a1a" font-weight="normal" stroke="#1a1a1a" stroke-width="0.22" >p315</text>
<text x="19" y="397.5" font-size="8.8" text-anchor="middle" fill="#1a1a1a" font-weight="normal" stroke="#1a1a1a" stroke-width="0.22" >(GRA:</text>
<text x="19" y="407.7" font-size="8.8" text-anchor="middle" fill="#1a1a1a" font-weight="normal" stroke="#1a1a1a" stroke-width="0.22" >68%VF)</text>
<text x="17.7" y="446.5" font-size="8.8" text-anchor="middle" fill="#1a1a1a" font-weight="normal" stroke="#1a1a1a" stroke-width="0.22" >PV</text>
<text x="17.7" y="456.8" font-size="8.8" text-anchor="middle" fill="#1a1a1a" font-weight="normal" stroke="#1a1a1a" stroke-width="0.22" >p209</text>
<text x="17.7" y="467.5" font-size="8.8" text-anchor="middle" fill="#1a1a1a" font-weight="normal" stroke="#1a1a1a" stroke-width="0.22" >(GRA:</text>
<text x="17.7" y="477.7" font-size="8.8" text-anchor="middle" fill="#1a1a1a" font-weight="normal" stroke="#1a1a1a" stroke-width="0.22" >94%VF)</text>
<text x="19" y="514.5" font-size="8.8" text-anchor="middle" fill="#1a1a1a" font-weight="normal" stroke="#1a1a1a" stroke-width="0.22" >PV</text>
<text x="19" y="525" font-size="8.8" text-anchor="middle" fill="#1a1a1a" font-weight="normal" stroke="#1a1a1a" stroke-width="0.22" >p312</text>
<text x="19" y="535.5" font-size="8.8" text-anchor="middle" fill="#1a1a1a" font-weight="normal" stroke="#1a1a1a" stroke-width="0.22" >(GRA:</text>
<text x="19" y="545.5" font-size="8.8" text-anchor="middle" fill="#1a1a1a" font-weight="normal" stroke="#1a1a1a" stroke-width="0.22" >83%VF)</text>
<text x="19.2" y="585.6" font-size="8.8" text-anchor="middle" fill="#1a1a1a" font-weight="normal" stroke="#1a1a1a" stroke-width="0.22" >PMF</text>
<text x="19.2" y="595.9" font-size="8.8" text-anchor="middle" fill="#1a1a1a" font-weight="normal" stroke="#1a1a1a" stroke-width="0.22" >p349</text>
<text x="19.2" y="606.4" font-size="8.8" text-anchor="middle" fill="#1a1a1a" font-weight="normal" stroke="#1a1a1a" stroke-width="0.22" >(GRA:</text>
<text x="19.2" y="616.5" font-size="8.8" text-anchor="middle" fill="#1a1a1a" font-weight="normal" stroke="#1a1a1a" stroke-width="0.22" >3%VF)</text>
<text x="503.3" y="374.5" font-size="8.8" text-anchor="middle" fill="#1a1a1a" font-weight="normal" stroke="#1a1a1a" stroke-width="0.22" >PMF</text>
<text x="503.3" y="384.9" font-size="8.8" text-anchor="middle" fill="#1a1a1a" font-weight="normal" stroke="#1a1a1a" stroke-width="0.22" >p290</text>
<text x="503.3" y="395.7" font-size="8.8" text-anchor="middle" fill="#1a1a1a" font-weight="normal" stroke="#1a1a1a" stroke-width="0.22" >(GRA:</text>
<text x="503.3" y="406.2" font-size="8.8" text-anchor="middle" fill="#1a1a1a" font-weight="normal" stroke="#1a1a1a" stroke-width="0.22" >44%VF)</text>
<text x="503.3" y="442.3" font-size="8.8" text-anchor="middle" fill="#1a1a1a" font-weight="normal" stroke="#1a1a1a" stroke-width="0.22" >PMF</text>
<text x="503.3" y="453.2" font-size="8.8" text-anchor="middle" fill="#1a1a1a" font-weight="normal" stroke="#1a1a1a" stroke-width="0.22" >p194</text>
<text x="503.3" y="464.3" font-size="8.8" text-anchor="middle" fill="#1a1a1a" font-weight="normal" stroke="#1a1a1a" stroke-width="0.22" >(GRA:</text>
<text x="503.3" y="474.8" font-size="8.8" text-anchor="middle" fill="#1a1a1a" font-weight="normal" stroke="#1a1a1a" stroke-width="0.22" >0%VF)</text>
<text x="503.3" y="515" font-size="8.8" text-anchor="middle" fill="#1a1a1a" font-weight="normal" stroke="#1a1a1a" stroke-width="0.22" >PMF</text>
<text x="503.3" y="525.3" font-size="8.8" text-anchor="middle" fill="#1a1a1a" font-weight="normal" stroke="#1a1a1a" stroke-width="0.22" >p197</text>
<text x="503.3" y="535.9" font-size="8.8" text-anchor="middle" fill="#b01c30" font-weight="normal" stroke="#b01c30" stroke-width="0.22" >(GRA:</text>
<text x="503.3" y="546.8" font-size="8.8" text-anchor="middle" fill="#b01c30" font-weight="normal" stroke="#b01c30" stroke-width="0.22" >0%VF)</text>
<text x="503" y="575.6" font-size="8.8" text-anchor="middle" fill="#1a1a1a" font-weight="normal" stroke="#1a1a1a" stroke-width="0.22" >ET</text>
<text x="503" y="585.8" font-size="8.8" text-anchor="middle" fill="#1a1a1a" font-weight="normal" stroke="#1a1a1a" stroke-width="0.22" >p101</text>
<text x="503" y="597.1" font-size="8.8" text-anchor="middle" fill="#b01c30" font-weight="normal" stroke="#b01c30" stroke-width="0.22" >(GRA</text>
<text x="503" y="607.3" font-size="8.8" text-anchor="middle" fill="#b01c30" font-weight="normal" stroke="#b01c30" stroke-width="0.22" >0%VF</text>
<text x="503" y="617.6" font-size="8.8" text-anchor="middle" fill="#b01c30" font-weight="normal" stroke="#b01c30" stroke-width="0.22" >14%</text>
<text x="503" y="627.9" font-size="8.8" text-anchor="middle" fill="#b01c30" font-weight="normal" stroke="#b01c30" stroke-width="0.22" >CALR)</text>
<g clip-path="url(#cL0)">
<rect x="33.8" y="357" width="215.0" height="61.19999999999999" fill="url(#g1)"/>
<path d="M36.9 388.2 C39.7 388.2 42.6 387.7 45.4 387.4 C48.0 387.1 50.5 386.8 53.1 386.2 C55.7 385.6 58.2 384.6 60.8 383.5 C63.4 382.4 65.9 381.2 68.5 379.7 C71.1 378.2 73.6 376.1 76.2 374.3 C78.7 372.5 81.3 370.4 83.8 368.9 C86.4 367.4 88.9 366.1 91.5 365.1 C94.1 364.1 96.6 363.4 99.2 362.5 C102.0 361.5 104.9 360.3 107.7 359.6 C110.3 359.0 112.8 358.5 115.4 358.2 C118.3 357.9 121.1 357.6 124.0 357.6 C165.6 357.6 207.2 357.6 248.8 357.6 L248.8 417.5 C205.9 417.5 162.9 417.5 120.0 417.5 C115.9 417.5 111.8 416.9 107.7 416.3 C104.9 415.9 102.0 415.1 99.2 414.3 C96.6 413.6 94.1 412.8 91.5 411.7 C88.9 410.6 86.4 409.0 83.8 407.4 C81.3 405.8 78.7 403.8 76.2 402.0 C73.6 400.2 71.1 398.1 68.5 396.6 C65.9 395.1 63.4 393.8 60.8 392.8 C58.2 391.8 55.7 391.1 53.1 390.5 C50.5 389.9 48.0 389.2 45.4 388.9 C42.6 388.6 39.7 388.2 36.9 388.2Z" fill="url(#g2)" stroke="#3a3010" stroke-width="0.55" stroke-opacity="0.7"/>
<path d="M104.6 372.8 C107.2 372.8 109.7 372.0 112.3 371.2 C114.4 370.6 116.4 369.3 118.5 368.2 C120.5 367.1 122.6 365.4 124.6 364.3 C126.7 363.2 128.7 362.1 130.8 361.5 C133.4 360.8 135.9 360.3 138.5 360.0 C141.1 359.7 143.6 359.3 146.2 359.3 C180.4 359.3 214.6 359.3 248.8 359.3 L248.8 385.1 C219.7 385.1 190.6 385.1 161.5 385.1 C156.4 385.1 151.3 384.9 146.2 384.7 C143.6 384.6 141.1 384.3 138.5 384.0 C135.9 383.7 133.4 382.8 130.8 382.0 C128.7 381.4 126.7 380.6 124.6 379.7 C122.6 378.8 120.5 377.5 118.5 376.6 C116.4 375.7 114.4 374.8 112.3 374.3 C109.7 373.6 107.2 372.8 104.6 372.8Z" fill="url(#g3)" stroke="#3a3010" stroke-width="0.55" stroke-opacity="0.7"/>
<path d="M153.8 372.8 C156.4 372.8 158.9 372.0 161.5 371.2 C163.6 370.6 165.6 369.3 167.7 368.2 C169.7 367.1 171.8 365.4 173.8 364.3 C175.9 363.2 177.9 362.1 180.0 361.6 C183.3 360.7 186.7 359.8 190.0 359.8 C209.6 359.8 229.2 359.8 248.8 359.8 L248.8 384.6 C227.9 384.6 206.9 384.6 186.0 384.6 C184.0 384.6 182.0 383.9 180.0 383.4 C177.9 382.9 175.9 382.1 173.8 381.2 C171.8 380.4 169.7 379.3 167.7 378.2 C165.6 377.1 163.6 375.5 161.5 374.8 C158.9 373.9 156.4 372.8 153.8 372.8Z" fill="url(#g4)" stroke="#3a3010" stroke-width="0.55" stroke-opacity="0.45"/>
<path d="M104.6 402.0 C107.2 402.0 109.7 401.2 112.3 400.5 C114.4 399.9 116.4 398.6 118.5 397.4 C120.5 396.2 122.6 394.1 124.6 392.8 C126.7 391.4 128.7 390.0 130.8 389.2 C133.4 388.2 135.9 387.5 138.5 387.1 C141.1 386.7 143.6 386.2 146.2 386.2 C180.4 386.2 214.6 386.2 248.8 386.2 L248.8 416.9 C217.1 416.9 185.5 416.9 153.8 416.9 C151.3 416.9 148.7 416.6 146.2 416.3 C143.6 416.0 141.1 415.6 138.5 415.1 C135.9 414.6 133.4 413.8 130.8 412.8 C128.7 412.0 126.7 410.8 124.6 409.7 C122.6 408.6 120.5 407.2 118.5 406.2 C116.4 405.2 114.4 404.1 112.3 403.5 C109.7 402.8 107.2 402.0 104.6 402.0Z" fill="url(#g5)" stroke="#3a3010" stroke-width="0.55" stroke-opacity="0.7"/>
</g>
<g clip-path="url(#cL1)">
<rect x="33.8" y="427.6" width="215.0" height="61.69999999999999" fill="url(#g6)"/>
<path d="M36.2 459.9 C39.3 459.9 42.3 459.5 45.4 459.2 C48.0 458.9 50.5 458.3 53.1 457.6 C55.7 456.9 58.2 455.6 60.8 454.5 C63.4 453.4 65.9 452.2 68.5 450.7 C71.1 449.2 73.6 447.0 76.2 445.3 C78.7 443.7 81.3 442.1 83.8 440.7 C86.4 439.3 88.9 437.8 91.5 436.8 C94.1 435.8 96.6 435.0 99.2 434.3 C102.0 433.5 104.9 432.8 107.7 432.2 C110.3 431.6 112.8 431.1 115.4 430.6 C117.9 430.1 120.5 429.6 123.0 429.4 C126.0 429.1 129.0 428.8 132.0 428.8 C170.9 428.8 209.9 428.8 248.8 428.8 L248.8 488.8 C203.5 488.8 158.3 488.8 113.0 488.8 C111.2 488.8 109.5 488.2 107.7 487.9 C104.9 487.4 102.0 486.9 99.2 486.2 C96.6 485.6 94.1 484.8 91.5 483.8 C88.9 482.8 86.4 481.4 83.8 479.9 C81.3 478.4 78.7 476.3 76.2 474.5 C73.6 472.7 71.1 470.7 68.5 469.2 C65.9 467.7 63.4 466.5 60.8 465.3 C58.2 464.1 55.7 462.9 53.1 462.2 C50.5 461.5 48.0 461.0 45.4 460.7 C42.3 460.3 39.3 459.9 36.2 459.9Z" fill="url(#g7)" stroke="#3a3010" stroke-width="0.55" stroke-opacity="0.7"/>
<path d="M68.5 459.9 C71.1 459.9 73.6 459.5 76.2 459.2 C78.7 458.9 81.3 458.3 83.8 457.6 C86.4 456.9 88.9 455.7 91.5 454.5 C94.1 453.3 96.6 451.5 99.2 449.9 C102.0 448.2 104.9 446.2 107.7 444.5 C110.3 442.9 112.8 441.3 115.4 439.9 C117.9 438.5 120.5 437.1 123.0 436.1 C125.6 435.1 128.2 434.2 130.8 433.5 C133.4 432.8 135.9 432.2 138.5 431.9 C141.1 431.6 143.6 431.3 146.2 431.2 C151.3 431.0 156.4 430.9 161.5 430.9 C190.6 430.9 219.7 430.9 248.8 430.9 L248.8 488.4 C214.6 488.4 180.4 488.4 146.2 488.4 C143.6 488.4 141.1 487.9 138.5 487.6 C135.9 487.3 133.4 486.9 130.8 486.4 C128.2 485.9 125.6 485.1 123.0 484.2 C120.5 483.3 117.9 482.0 115.4 480.7 C112.8 479.4 110.3 477.8 107.7 476.1 C104.9 474.2 102.0 471.8 99.2 469.9 C96.6 468.2 94.1 466.5 91.5 465.3 C88.9 464.1 86.4 462.9 83.8 462.2 C81.3 461.5 78.7 461.0 76.2 460.7 C73.6 460.4 71.1 459.9 68.5 459.9Z" fill="url(#g8)" stroke="#3a3010" stroke-width="0.55" stroke-opacity="0.7"/>
<path d="M103.8 460.7 C106.6 460.7 109.5 460.1 112.3 459.6 C114.9 459.1 117.4 458.1 120.0 457.2 C122.6 456.3 125.1 455.1 127.7 453.8 C130.3 452.5 132.8 450.7 135.4 449.2 C138.0 447.7 140.5 445.9 143.1 444.5 C145.7 443.1 148.2 441.8 150.8 440.7 C153.4 439.6 155.9 438.5 158.5 437.6 C161.1 436.7 163.6 435.9 166.2 435.3 C168.7 434.7 171.3 434.2 173.8 433.8 C175.9 433.4 177.9 433.0 180.0 432.8 C183.5 432.5 186.9 432.2 190.4 432.2 C209.9 432.2 229.3 432.2 248.8 432.2 L248.8 487.7 C225.9 487.7 202.9 487.7 180.0 487.7 C177.9 487.7 175.9 487.5 173.8 487.3 C171.3 487.1 168.7 486.6 166.2 486.1 C163.6 485.6 161.1 484.9 158.5 484.2 C155.9 483.5 153.4 482.6 150.8 481.5 C148.2 480.4 145.7 479.0 143.1 477.6 C140.5 476.2 138.0 474.5 135.4 473.0 C132.8 471.5 130.3 469.8 127.7 468.4 C125.1 467.0 122.6 465.6 120.0 464.5 C117.4 463.4 114.9 462.3 112.3 461.8 C109.5 461.3 106.6 460.7 103.8 460.7Z" fill="url(#g9)" stroke="#3a3010" stroke-width="0.55" stroke-opacity="0.5"/>
<path d="M138.5 461.5 C141.1 461.5 143.6 461.0 146.2 460.7 C148.7 460.4 151.3 459.8 153.8 459.2 C156.4 458.6 158.9 457.7 161.5 456.8 C164.1 455.9 166.6 454.9 169.2 453.8 C171.8 452.7 174.3 451.4 176.9 449.9 C178.8 448.8 180.8 447.3 182.7 446.1 C185.3 444.5 187.8 442.7 190.4 441.5 C193.0 440.3 195.5 439.2 198.1 438.4 C200.7 437.6 203.2 437.0 205.8 436.5 C208.4 436.0 210.9 435.5 213.5 435.3 C216.1 435.1 218.6 434.9 221.2 434.8 C226.3 434.6 231.4 434.5 236.5 434.5 C240.6 434.5 244.7 434.5 248.8 434.5 L248.8 487.9 C239.6 487.9 230.4 487.9 221.2 487.9 C218.6 487.9 216.1 487.6 213.5 487.3 C210.9 487.0 208.4 486.6 205.8 486.1 C203.2 485.6 200.7 484.9 198.1 484.2 C195.5 483.5 193.0 482.5 190.4 481.5 C187.8 480.5 185.3 479.4 182.7 478.1 C180.8 477.1 178.8 475.6 176.9 474.5 C174.3 473.1 171.8 472.0 169.2 470.7 C166.6 469.4 164.1 467.8 161.5 466.8 C158.9 465.8 156.4 464.8 153.8 464.2 C151.3 463.6 148.7 463.1 146.2 462.7 C143.6 462.3 141.1 461.5 138.5 461.5Z" fill="url(#g10)" stroke="#3a3010" stroke-width="0.55" stroke-opacity="0.7"/>
<path d="M176.5 466.8 C179.1 466.8 181.6 466.5 184.2 466.1 C186.8 465.7 189.3 464.8 191.9 463.8 C194.5 462.8 197.0 461.3 199.6 459.9 C201.7 458.7 203.7 457.5 205.8 456.1 C207.8 454.7 209.9 452.7 211.9 451.5 C214.0 450.3 216.0 449.3 218.1 448.4 C220.1 447.5 222.2 446.6 224.2 446.1 C226.3 445.6 228.3 445.2 230.4 445.0 C233.5 444.7 236.5 444.5 239.6 444.5 C242.7 444.5 245.7 444.5 248.8 444.5 L248.8 487.9 C242.7 487.9 236.5 487.9 230.4 487.9 C228.3 487.9 226.3 487.6 224.2 487.3 C222.2 487.0 220.1 486.4 218.1 485.8 C216.0 485.2 214.0 484.3 211.9 483.3 C209.9 482.3 207.8 480.9 205.8 479.6 C203.7 478.3 201.7 476.6 199.6 475.3 C197.0 473.6 194.5 471.9 191.9 470.7 C189.3 469.5 186.8 468.4 184.2 467.9 C181.6 467.4 179.1 466.8 176.5 466.8Z" fill="url(#g11)" stroke="#3a3010" stroke-width="0.55" stroke-opacity="0.7"/>
</g>
<g clip-path="url(#cL2)">
<rect x="33.8" y="498" width="215.0" height="61.200000000000045" fill="url(#g12)"/>
<path d="M36.9 541.0 C39.7 541.0 42.6 540.7 45.4 540.4 C48.0 540.1 50.5 539.3 53.1 538.4 C55.7 537.5 58.2 536.2 60.8 534.8 C63.4 533.4 65.9 531.3 68.5 529.9 C71.1 528.5 73.6 527.0 76.2 526.1 C78.7 525.2 81.3 524.4 83.8 524.1 C86.4 523.8 88.9 523.5 91.5 523.4 C94.3 523.3 97.2 523.2 100.0 523.2 C149.6 523.2 199.2 523.2 248.8 523.2 L248.8 559.0 C195.2 559.0 141.6 559.0 88.0 559.0 C86.6 559.0 85.2 558.7 83.8 558.4 C81.3 557.9 78.7 557.1 76.2 556.1 C73.6 555.1 71.1 553.6 68.5 552.2 C65.9 550.8 63.4 548.9 60.8 547.6 C58.2 546.3 55.7 545.0 53.1 544.1 C50.5 543.2 48.0 542.3 45.4 541.9 C42.6 541.5 39.7 541.0 36.9 541.0Z" fill="url(#g13)" stroke="#3a3010" stroke-width="0.55" stroke-opacity="0.7"/>
<path d="M88.5 542.5 C90.5 542.5 92.6 542.0 94.6 541.5 C96.7 541.0 98.7 540.0 100.8 538.8 C102.6 537.8 104.4 535.9 106.2 534.5 C108.2 532.9 110.3 531.1 112.3 529.9 C114.4 528.6 116.4 527.4 118.5 526.7 C120.5 526.1 122.6 525.5 124.6 525.3 C126.7 525.1 128.7 524.9 130.8 524.9 C170.1 524.9 209.5 524.9 248.8 524.9 L248.8 558.8 C209.2 558.8 169.6 558.8 130.0 558.8 C128.2 558.8 126.4 558.4 124.6 558.1 C122.6 557.8 120.5 557.4 118.5 556.8 C116.4 556.2 114.4 555.5 112.3 554.5 C110.3 553.6 108.2 552.1 106.2 550.7 C104.4 549.5 102.6 547.8 100.8 546.8 C98.7 545.6 96.7 544.4 94.6 543.8 C92.6 543.2 90.5 542.5 88.5 542.5Z" fill="url(#g14)" stroke="#3a3010" stroke-width="0.55" stroke-opacity="0.7"/>
<path d="M119.2 543.0 C121.5 543.0 123.9 542.4 126.2 541.9 C128.2 541.4 130.3 540.3 132.3 539.2 C134.4 538.1 136.4 536.6 138.5 535.3 C140.5 534.0 142.6 532.5 144.6 531.5 C146.7 530.5 148.7 529.5 150.8 529.0 C152.8 528.5 154.9 528.0 156.9 527.8 C159.5 527.5 162.0 527.3 164.6 527.3 C167.7 527.2 170.7 527.2 173.8 527.2 C198.8 527.2 223.8 527.2 248.8 527.2 L248.8 558.3 C220.7 558.3 192.7 558.3 164.6 558.3 C162.0 558.3 159.5 557.9 156.9 557.6 C154.9 557.3 152.8 556.9 150.8 556.4 C148.7 555.9 146.7 555.1 144.6 554.2 C142.6 553.3 140.5 551.9 138.5 550.7 C136.4 549.5 134.4 547.9 132.3 546.8 C130.3 545.7 128.2 544.6 126.2 544.1 C123.9 543.6 121.5 543.0 119.2 543.0Z" fill="url(#g15)" stroke="#3a3010" stroke-width="0.55" stroke-opacity="0.7"/>
<path d="M160.8 548.7 C163.1 548.7 165.4 548.1 167.7 547.6 C169.7 547.1 171.8 545.9 173.8 544.9 C175.7 543.9 177.7 542.4 179.6 541.5 C181.1 540.8 182.7 539.9 184.2 539.6 C186.3 539.2 188.3 538.8 190.4 538.8 C209.9 538.8 229.3 538.8 248.8 538.8 L248.8 558.3 C229.3 558.3 209.9 558.3 190.4 558.3 C188.3 558.3 186.3 557.9 184.2 557.6 C182.7 557.3 181.1 556.8 179.6 556.2 C177.7 555.4 175.7 553.9 173.8 552.9 C171.8 551.8 169.7 550.4 167.7 549.9 C165.4 549.3 163.1 548.7 160.8 548.7Z" fill="url(#g16)" stroke="#3a3010" stroke-width="0.55" stroke-opacity="0.5"/>
</g>
<g clip-path="url(#cL3)">
<rect x="33.8" y="568.8" width="215.0" height="61.5" fill="url(#g17)"/>
<path d="M36.9 609.8 C39.7 609.8 42.6 609.6 45.4 609.4 C48.0 609.2 50.5 608.5 53.1 607.8 C55.7 607.1 58.2 606.2 60.8 605.2 C63.4 604.2 65.9 602.9 68.5 601.7 C71.1 600.5 73.6 598.9 76.2 597.8 C78.7 596.7 81.3 595.6 83.8 594.8 C86.4 594.0 88.9 593.3 91.5 592.9 C94.1 592.5 96.6 592.2 99.2 592.0 C102.8 591.7 106.4 591.5 110.0 591.4 C115.0 591.2 120.0 591.0 125.0 591.0 C166.3 591.0 207.5 591.0 248.8 591.0 L248.8 629.8 C201.9 629.8 154.9 629.8 108.0 629.8 C105.1 629.8 102.1 629.3 99.2 628.9 C96.6 628.6 94.1 628.3 91.5 627.8 C88.9 627.3 86.4 626.6 83.8 625.8 C81.3 625.0 78.7 624.0 76.2 622.8 C73.6 621.6 71.1 619.9 68.5 618.6 C65.9 617.3 63.4 615.9 60.8 614.8 C58.2 613.7 55.7 612.7 53.1 612.0 C50.5 611.3 48.0 610.8 45.4 610.5 C42.6 610.2 39.7 609.8 36.9 609.8Z" fill="url(#g18)" stroke="#3a3010" stroke-width="0.55" stroke-opacity="0.7"/>
<path d="M36.9 588.3 C44.9 588.3 52.8 587.8 60.8 587.4 C65.9 587.2 71.1 586.7 76.2 586.4 C81.3 586.1 86.4 585.8 91.5 585.7 C97.7 585.6 103.8 585.4 110.0 585.4 C156.3 585.4 202.5 585.4 248.8 585.4 L248.8 590.8 C202.5 590.8 156.3 590.8 110.0 590.8 C103.8 590.8 97.7 590.6 91.5 590.5 C86.4 590.4 81.3 590.1 76.2 589.8 C71.1 589.5 65.9 589.1 60.8 588.9 C52.8 588.6 44.9 588.3 36.9 588.3Z" fill="url(#g19)" stroke="#3a3010" stroke-width="0.45" stroke-opacity="0.7"/>
<path d="M89.2 613.5 C91.5 613.5 93.9 613.2 96.2 612.9 C98.2 612.6 100.3 612.0 102.3 611.4 C104.1 610.9 105.9 610.2 107.7 609.5 C110.3 608.5 112.8 607.3 115.4 606.3 C117.9 605.3 120.5 604.2 123.0 603.4 C125.6 602.6 128.2 601.9 130.8 601.4 C133.4 600.9 135.9 600.5 138.5 600.2 C141.1 599.9 143.6 599.7 146.2 599.5 C151.3 599.2 156.4 598.9 161.5 598.7 C167.7 598.5 173.8 598.3 180.0 598.3 C202.9 598.3 225.9 598.3 248.8 598.3 L248.8 629.2 C214.6 629.2 180.4 629.2 146.2 629.2 C143.6 629.2 141.1 628.9 138.5 628.6 C135.9 628.3 133.4 627.9 130.8 627.4 C128.2 626.9 125.6 626.3 123.0 625.5 C120.5 624.7 117.9 623.6 115.4 622.5 C112.8 621.4 110.3 619.9 107.7 618.6 C105.9 617.7 104.1 616.6 102.3 616.0 C100.3 615.3 98.2 614.9 96.2 614.5 C93.9 614.1 91.5 613.5 89.2 613.5Z" fill="url(#g20)" stroke="#3a3010" stroke-width="0.55" stroke-opacity="0.7"/>
</g>
<g clip-path="url(#cR0)">
<rect x="269.8" y="356.7" width="215.09999999999997" height="61.30000000000001" fill="url(#g21)"/>
<path d="M272.7 388.5 C275.3 388.5 277.8 388.1 280.4 387.7 C283.0 387.3 285.5 386.6 288.1 385.8 C290.7 385.0 293.2 384.0 295.8 382.8 C298.4 381.6 300.9 380.0 303.5 378.5 C306.1 377.0 308.6 375.1 311.2 373.5 C313.7 371.9 316.3 370.3 318.8 368.9 C321.4 367.5 323.9 366.2 326.5 365.1 C329.1 364.0 331.6 362.9 334.2 362.0 C337.0 361.0 339.9 360.0 342.7 359.4 C345.3 358.9 347.8 358.5 350.4 358.2 C352.9 357.9 355.5 357.5 358.0 357.5 C400.3 357.5 442.6 357.5 484.9 357.5 L484.9 417.6 C438.9 417.6 393.0 417.6 347.0 417.6 C345.3 417.6 343.6 417.0 341.9 416.6 C339.3 416.1 336.8 415.5 334.2 414.8 C331.6 414.1 329.1 413.1 326.5 412.0 C323.9 410.9 321.4 409.6 318.8 408.2 C316.3 406.8 313.7 405.2 311.2 403.5 C308.6 401.8 306.1 399.7 303.5 398.2 C300.9 396.7 298.4 395.5 295.8 394.3 C293.2 393.1 290.7 392.0 288.1 391.2 C285.5 390.4 283.0 389.5 280.4 389.2 C277.8 388.9 275.3 388.5 272.7 388.5Z" fill="url(#g22)" stroke="#3a2030" stroke-width="0.55" stroke-opacity="0.7"/>
<path d="M311.9 388.5 C314.2 388.5 316.5 387.9 318.8 387.4 C321.4 386.9 323.9 386.1 326.5 385.1 C329.1 384.1 331.6 382.8 334.2 381.2 C336.5 379.8 338.9 377.9 341.2 375.8 C343.2 374.0 345.3 371.3 347.3 369.5 C349.4 367.6 351.4 365.9 353.5 364.6 C355.5 363.4 357.6 362.3 359.6 361.6 C361.7 360.9 363.7 360.3 365.8 360.0 C368.9 359.5 371.9 359.0 375.0 358.9 C379.6 358.7 384.2 358.5 388.8 358.5 C420.8 358.5 452.9 358.5 484.9 358.5 L484.9 416.9 C451.9 416.9 418.8 416.9 385.8 416.9 C382.2 416.9 378.6 416.6 375.0 416.3 C371.9 416.1 368.9 415.6 365.8 415.1 C363.7 414.7 361.7 414.1 359.6 413.5 C357.6 412.9 355.5 412.1 353.5 411.2 C351.4 410.3 349.4 409.0 347.3 407.6 C345.3 406.2 343.2 404.0 341.2 402.3 C338.9 400.3 336.5 398.2 334.2 396.6 C331.6 394.9 329.1 393.4 326.5 392.3 C323.9 391.2 321.4 390.3 318.8 389.7 C316.5 389.2 314.2 388.5 311.9 388.5Z" fill="url(#g23)" stroke="#203040" stroke-width="0.55" stroke-opacity="0.7"/>
<path d="M352.7 390.2 C355.0 390.2 357.3 389.5 359.6 388.9 C361.7 388.4 363.7 387.6 365.8 386.6 C367.8 385.6 369.9 383.7 371.9 382.0 C374.0 380.2 376.0 377.7 378.1 375.8 C380.1 373.9 382.2 372.0 384.2 370.5 C386.3 369.0 388.3 367.6 390.4 366.6 C392.4 365.6 394.5 364.5 396.5 364.0 C399.1 363.4 401.6 362.9 404.2 362.7 C407.8 362.4 411.4 362.2 415.0 362.2 C438.3 362.2 461.6 362.2 484.9 362.2 L484.9 416.4 C460.6 416.4 436.2 416.4 411.9 416.4 C409.3 416.4 406.8 416.1 404.2 415.8 C401.6 415.5 399.1 415.0 396.5 414.3 C394.5 413.8 392.4 412.9 390.4 412.0 C388.3 411.0 386.3 409.7 384.2 408.2 C382.2 406.7 380.1 404.6 378.1 402.8 C376.0 401.0 374.0 398.9 371.9 397.4 C369.9 395.9 367.8 394.5 365.8 393.5 C363.7 392.5 361.7 391.6 359.6 391.2 C357.3 390.7 355.0 390.2 352.7 390.2Z" fill="url(#g24)" stroke="#102040" stroke-width="0.55" stroke-opacity="0.7"/>
<path d="M388.8 400.9 C391.4 400.9 393.9 399.9 396.5 398.9 C398.6 398.1 400.6 396.5 402.7 395.1 C404.7 393.7 406.8 392.0 408.8 390.5 C411.3 388.6 413.7 385.8 416.2 384.9 C418.2 384.1 420.3 383.5 422.3 383.3 C425.4 383.0 428.4 382.8 431.5 382.8 C449.3 382.8 467.1 382.8 484.9 382.8 L484.9 416.6 C466.1 416.6 447.3 416.6 428.5 416.6 C426.4 416.6 424.4 416.2 422.3 415.8 C420.3 415.4 418.2 414.9 416.2 414.1 C413.7 413.2 411.3 411.2 408.8 409.7 C406.8 408.4 404.7 407.0 402.7 405.8 C400.6 404.6 398.6 403.1 396.5 402.5 C393.9 401.7 391.4 400.9 388.8 400.9Z" fill="url(#g25)" stroke="#402010" stroke-width="0.55" stroke-opacity="0.7"/>
<path d="M423.1 402.5 C424.9 402.5 426.7 401.4 428.5 400.5 C430.0 399.7 431.6 398.0 433.1 396.6 C434.6 395.2 436.2 393.2 437.7 392.3 C439.2 391.4 440.8 390.6 442.3 390.2 C444.4 389.7 446.4 389.3 448.5 389.2 C451.1 389.0 453.6 388.9 456.2 388.9 C465.8 388.9 475.3 388.9 484.9 388.9 L484.9 416.6 C474.9 416.6 465.0 416.6 455.0 416.6 C452.8 416.6 450.7 416.5 448.5 416.3 C446.4 416.1 444.4 415.5 442.3 414.8 C440.8 414.3 439.2 413.1 437.7 412.0 C436.2 410.9 434.6 409.5 433.1 408.2 C431.6 406.9 430.0 405.0 428.5 404.3 C426.7 403.4 424.9 402.5 423.1 402.5Z" fill="url(#g26)" stroke="#3a3010" stroke-width="0.55" stroke-opacity="0.5"/>
</g>
<g clip-path="url(#cR1)">
<rect x="269.8" y="427.4" width="215.09999999999997" height="61.30000000000001" fill="url(#g27)"/>
<path d="M272.7 458.1 C275.3 458.1 277.8 457.9 280.4 457.6 C283.0 457.4 285.5 456.8 288.1 456.1 C290.7 455.4 293.2 454.2 295.8 453.0 C298.4 451.8 300.9 450.1 303.5 448.4 C306.1 446.7 308.6 444.8 311.2 443.0 C313.7 441.2 316.3 439.1 318.8 437.6 C321.4 436.0 323.9 434.6 326.5 433.5 C329.1 432.4 331.6 431.4 334.2 430.7 C336.8 430.0 339.3 429.4 341.9 429.0 C343.9 428.7 346.0 428.2 348.0 428.2 C393.6 428.2 439.3 428.2 484.9 428.2 L484.9 488.2 C439.3 488.2 393.6 488.2 348.0 488.2 C346.0 488.2 343.9 487.6 341.9 487.3 C339.3 486.9 336.8 486.5 334.2 485.8 C331.6 485.1 329.1 484.1 326.5 483.0 C323.9 481.9 321.4 480.7 318.8 479.2 C316.3 477.7 313.7 475.6 311.2 473.8 C308.6 472.0 306.1 470.1 303.5 468.4 C300.9 466.7 298.4 465.0 295.8 463.8 C293.2 462.6 290.7 461.5 288.1 460.7 C285.5 459.9 283.0 459.0 280.4 458.7 C277.8 458.4 275.3 458.1 272.7 458.1Z" fill="url(#g28)" stroke="#103040" stroke-width="0.55" stroke-opacity="0.7"/>
<path d="M311.9 464.8 C314.2 464.8 316.5 464.5 318.8 464.2 C321.4 463.9 323.9 463.0 326.5 462.2 C329.1 461.4 331.6 460.2 334.2 458.7 C337.0 457.1 339.9 454.3 342.7 452.2 C345.3 450.3 347.8 448.1 350.4 446.6 C353.0 445.1 355.5 443.7 358.1 442.8 C360.7 441.9 363.2 441.2 365.8 440.8 C368.4 440.4 370.9 440.1 373.5 439.9 C376.1 439.7 378.6 439.6 381.2 439.5 C386.3 439.4 391.4 439.3 396.5 439.3 C426.0 439.3 455.4 439.3 484.9 439.3 L484.9 487.6 C450.3 487.6 415.8 487.6 381.2 487.6 C379.1 487.6 377.1 487.2 375.0 487.0 C371.9 486.6 368.9 486.2 365.8 485.6 C363.2 485.1 360.7 484.5 358.1 483.8 C355.5 483.1 353.0 482.3 350.4 481.2 C347.8 480.1 345.3 478.8 342.7 477.2 C339.9 475.5 337.0 472.4 334.2 470.9 C331.6 469.5 329.1 468.4 326.5 467.6 C323.9 466.8 321.4 466.3 318.8 465.8 C316.5 465.4 314.2 464.8 311.9 464.8Z" fill="url(#g29)" stroke="#3a2030" stroke-width="0.55" stroke-opacity="0.7"/>
<path d="M344.2 469.9 C346.3 469.9 348.3 469.5 350.4 469.2 C353.0 468.8 355.5 467.8 358.1 466.8 C360.7 465.8 363.2 464.3 365.8 463.0 C368.4 461.7 370.9 459.9 373.5 458.7 C376.1 457.5 378.6 456.2 381.2 455.4 C383.7 454.6 386.3 453.8 388.8 453.4 C391.4 453.0 393.9 452.7 396.5 452.5 C399.1 452.3 401.6 452.1 404.2 452.1 C431.1 452.1 458.0 452.1 484.9 452.1 L484.9 487.3 C452.4 487.3 419.8 487.3 387.3 487.3 C385.3 487.3 383.2 486.4 381.2 485.8 C378.6 485.0 376.1 483.6 373.5 482.2 C370.9 480.8 368.4 478.3 365.8 476.8 C363.2 475.3 360.7 474.0 358.1 473.0 C355.5 472.0 353.0 471.2 350.4 470.7 C348.3 470.3 346.3 469.9 344.2 469.9Z" fill="url(#g30)" stroke="#203040" stroke-width="0.55" stroke-opacity="0.7"/>
</g>
<g clip-path="url(#cR2)">
<rect x="269.8" y="498.1" width="215.09999999999997" height="60.89999999999998" fill="url(#g31)"/>
<path d="M273.5 528.7 C275.8 528.7 278.1 528.4 280.4 528.1 C283.0 527.8 285.5 527.2 288.1 526.5 C290.7 525.8 293.2 524.9 295.8 523.8 C298.4 522.7 300.9 521.1 303.5 519.5 C306.1 517.9 308.6 515.7 311.2 513.8 C313.7 512.0 316.3 510.0 318.8 508.4 C321.4 506.8 323.9 505.2 326.5 504.1 C329.1 503.0 331.6 502.2 334.2 501.5 C336.8 500.8 339.3 500.3 341.9 499.9 C343.9 499.6 346.0 499.0 348.0 499.0 C393.6 499.0 439.3 499.0 484.9 499.0 L484.9 558.4 C439.3 558.4 393.6 558.4 348.0 558.4 C346.0 558.4 343.9 557.9 341.9 557.6 C339.3 557.2 336.8 556.7 334.2 556.1 C331.6 555.5 329.1 554.8 326.5 553.8 C323.9 552.8 321.4 551.2 318.8 549.6 C316.3 548.0 313.7 546.0 311.2 544.1 C308.6 542.2 306.1 540.0 303.5 538.4 C300.9 536.8 298.4 535.4 295.8 534.2 C293.2 533.0 290.7 531.9 288.1 531.2 C285.5 530.5 283.0 529.9 280.4 529.5 C278.1 529.2 275.8 528.7 273.5 528.7Z" fill="url(#g32)" stroke="#103040" stroke-width="0.55" stroke-opacity="0.7"/>
<path d="M363.5 521.5 C365.8 521.5 368.1 521.1 370.4 520.7 C373.0 520.3 375.5 519.3 378.1 518.4 C380.7 517.5 383.2 515.8 385.8 514.8 C388.4 513.8 390.9 512.9 393.5 512.4 C396.1 511.9 398.6 511.5 401.2 511.4 C403.7 511.3 406.3 511.2 408.8 511.2 C434.2 511.2 459.5 511.2 484.9 511.2 L484.9 531.2 C459.5 531.2 434.2 531.2 408.8 531.2 C406.3 531.2 403.7 531.0 401.2 530.8 C398.6 530.6 396.1 530.3 393.5 529.9 C390.9 529.5 388.4 528.5 385.8 527.6 C383.2 526.7 380.7 525.4 378.1 524.5 C375.5 523.6 373.0 522.6 370.4 522.2 C368.1 521.9 365.8 521.5 363.5 521.5Z" fill="url(#g33)" stroke="#302000" stroke-width="0.55" stroke-opacity="0.85"/>
<path d="M361.9 545.3 C364.2 545.3 366.5 544.9 368.8 544.5 C371.4 544.1 373.9 543.0 376.5 541.9 C379.1 540.8 381.6 539.1 384.2 537.9 C386.8 536.7 389.3 535.3 391.9 534.5 C394.5 533.7 397.0 533.1 399.6 532.7 C402.2 532.3 404.7 532.0 407.3 531.8 C409.9 531.6 412.4 531.4 415.0 531.4 C438.3 531.4 461.6 531.4 484.9 531.4 L484.9 557.6 C459.0 557.6 433.2 557.6 407.3 557.6 C404.7 557.6 402.2 557.1 399.6 556.8 C397.0 556.5 394.5 556.0 391.9 555.3 C389.3 554.6 386.8 553.3 384.2 552.2 C381.6 551.1 379.1 549.7 376.5 548.7 C373.9 547.7 371.4 546.5 368.8 546.1 C366.5 545.7 364.2 545.3 361.9 545.3Z" fill="url(#g34)" stroke="#302000" stroke-width="0.55" stroke-opacity="0.85"/>
</g>
<g clip-path="url(#cR3)">
<rect x="269.8" y="568.8" width="215.09999999999997" height="61.200000000000045" fill="url(#g35)"/>
<path d="M278.8 590.5 C281.9 590.5 285.0 590.0 288.1 589.4 C290.7 588.9 293.2 587.8 295.8 586.8 C298.4 585.8 300.9 584.1 303.5 583.2 C306.1 582.3 308.6 581.4 311.2 580.9 C313.7 580.4 316.3 579.9 318.8 579.8 C321.4 579.7 323.9 579.7 326.5 579.7 C329.3 579.7 332.2 580.5 335.0 581.2 C337.6 581.8 340.1 582.8 342.7 583.7 C345.3 584.6 347.8 586.0 350.4 586.8 C353.0 587.6 355.5 588.4 358.1 588.9 C360.7 589.4 363.2 589.9 365.8 590.1 C368.6 590.3 371.4 590.5 374.2 590.5 C371.4 590.5 368.6 590.8 365.8 591.0 C363.2 591.2 360.7 591.6 358.1 592.0 C355.5 592.4 353.0 593.2 350.4 594.0 C347.8 594.8 345.3 596.2 342.7 597.1 C340.1 598.0 337.6 599.2 335.0 599.7 C332.2 600.3 329.3 600.9 326.5 600.9 C323.9 600.9 321.4 600.8 318.8 600.6 C316.3 600.4 313.7 599.9 311.2 599.4 C308.6 598.9 306.1 598.0 303.5 597.1 C300.9 596.2 298.4 594.9 295.8 594.0 C293.2 593.1 290.7 592.2 288.1 591.7 C285.0 591.1 281.9 590.5 278.8 590.5Z" fill="url(#g36)" stroke="#4a2828" stroke-width="0.55" stroke-opacity="0.75"/>
<path d="M279.6 616.3 C282.4 616.3 285.3 615.9 288.1 615.5 C290.7 615.1 293.2 613.7 295.8 612.9 C298.4 612.1 300.9 611.0 303.5 610.6 C306.1 610.2 308.6 609.8 311.2 609.8 C316.3 609.7 321.4 609.7 326.5 609.7 C337.0 609.7 347.5 609.7 358.0 609.7 C360.6 609.7 363.2 609.3 365.8 608.9 C368.4 608.5 370.9 607.9 373.5 607.1 C376.1 606.3 378.6 604.9 381.2 603.2 C383.2 601.9 385.3 599.8 387.3 597.8 C388.8 596.3 390.4 594.3 391.9 592.5 C393.4 590.7 395.0 588.6 396.5 587.1 C398.1 585.6 399.6 584.3 401.2 583.2 C403.2 581.8 405.3 580.5 407.3 579.8 C410.3 578.8 413.2 578.1 416.2 577.8 C419.3 577.5 422.3 577.1 425.4 577.1 C445.2 577.1 465.1 577.1 484.9 577.1 L484.9 623.2 C427.0 623.2 369.1 623.2 311.2 623.2 C308.6 623.2 306.1 622.7 303.5 622.2 C300.9 621.7 298.4 620.5 295.8 619.7 C293.2 618.9 290.7 617.9 288.1 617.4 C285.3 616.9 282.4 616.3 279.6 616.3Z" fill="url(#g37)" stroke="#203808" stroke-width="0.55" stroke-opacity="0.7"/>
<path d="M338.8 618.2 C341.1 618.2 343.5 617.2 345.8 616.6 C348.4 616.0 350.9 615.0 353.5 614.5 C356.1 614.0 358.6 613.6 361.2 613.5 C365.3 613.3 369.4 613.3 373.5 613.2 C377.6 613.1 381.7 613.1 385.8 612.9 C389.4 612.8 392.9 612.3 396.5 611.7 C399.1 611.3 401.6 610.4 404.2 609.4 C406.1 608.7 408.1 607.5 410.0 606.6 C411.5 605.9 413.1 605.2 414.6 604.6 C416.1 604.0 417.7 603.2 419.2 602.8 C421.3 602.2 423.3 601.6 425.4 601.4 C428.0 601.1 430.5 600.9 433.1 600.9 C450.4 600.9 467.6 600.9 484.9 600.9 L484.9 623.2 C443.7 623.2 402.4 623.2 361.2 623.2 C358.6 623.2 356.1 622.7 353.5 622.2 C350.9 621.7 348.4 620.4 345.8 619.7 C343.5 619.1 341.1 618.2 338.8 618.2Z" fill="url(#g38)" stroke="#302000" stroke-width="0.55" stroke-opacity="0.7"/>
<path d="M279.6 626.6 C282.4 626.6 285.3 626.3 288.1 626.0 C290.7 625.7 293.2 624.9 295.8 624.5 C298.4 624.1 300.9 623.7 303.5 623.6 C306.0 623.5 308.5 623.4 311.0 623.4 C369.0 623.4 426.9 623.4 484.9 623.4 L484.9 630.0 C426.9 630.0 369.0 630.0 311.0 630.0 C308.5 630.0 306.0 629.5 303.5 629.2 C300.9 628.9 298.4 628.6 295.8 628.3 C293.2 628.0 290.7 627.4 288.1 627.2 C285.3 626.9 282.4 626.6 279.6 626.6Z" fill="url(#g39)" stroke="#103040" stroke-width="0.55" stroke-opacity="0.7"/>
</g>
<rect x="33.8" y="357" width="215.0" height="61.2" fill="none" stroke="#0c0c0c" stroke-width="1.65"/>
<rect x="269.8" y="356.7" width="215.1" height="61.3" fill="none" stroke="#0c0c0c" stroke-width="1.65"/>
<rect x="33.8" y="427.6" width="215.0" height="61.7" fill="none" stroke="#0c0c0c" stroke-width="1.65"/>
<rect x="269.8" y="427.4" width="215.1" height="61.3" fill="none" stroke="#0c0c0c" stroke-width="1.65"/>
<rect x="33.8" y="498" width="215.0" height="61.2" fill="none" stroke="#0c0c0c" stroke-width="1.65"/>
<rect x="269.8" y="498.1" width="215.1" height="60.9" fill="none" stroke="#0c0c0c" stroke-width="1.65"/>
<rect x="33.8" y="568.8" width="215.0" height="61.5" fill="none" stroke="#0c0c0c" stroke-width="1.65"/>
<rect x="269.8" y="568.8" width="215.1" height="61.2" fill="none" stroke="#0c0c0c" stroke-width="1.65"/>
<text transform="translate(42.5 366.6) scale(0.9 1)" font-size="6.8" text-anchor="middle" fill="#25251c" stroke="#25251c" stroke-width="0.15">WT</text>
<text transform="translate(91.3 390.2) scale(0.9 1)" font-size="6.8" text-anchor="middle" fill="#25251c" stroke="#25251c" stroke-width="0.15">TET2</text>
<text transform="translate(152.8 368.2) scale(0.9 1)" font-size="6.8" text-anchor="middle" fill="#40201c" stroke="#40201c" stroke-width="0.15">JAK2 het</text>
<text transform="translate(210.8 373.5) scale(0.9 1)" font-size="6.8" text-anchor="middle" fill="#f6e4e0" stroke="#f6e4e0" stroke-width="0.15">JAK2 hom</text>
<text transform="translate(154.8 404.3) scale(0.9 1)" font-size="6.8" text-anchor="middle" fill="#1c3818" stroke="#1c3818" stroke-width="0.15">KRAS</text>
<text transform="translate(41.6 436.8) scale(0.9 1)" font-size="6.8" text-anchor="middle" fill="#25251c" stroke="#25251c" stroke-width="0.15">WT</text>
<text transform="translate(99.2 444.5) scale(0.9 1)" font-size="6.8" text-anchor="middle" fill="#25251c" stroke="#25251c" stroke-width="0.15">TET2</text>
<text transform="translate(123.4 449.2) scale(0.9 1)" font-size="6.8" text-anchor="middle" fill="#40201c" stroke="#40201c" stroke-width="0.15">JAK2 het</text>
<text transform="translate(153.5 455.3) scale(0.9 1)" font-size="6.8" text-anchor="middle" fill="#f6e4e0" stroke="#f6e4e0" stroke-width="0.15">JAK2 hom</text>
<text transform="translate(184.8 460.7) scale(0.9 1)" font-size="6.8" text-anchor="middle" fill="#16304c" stroke="#16304c" stroke-width="0.15">CBL het</text>
<text transform="translate(213.1 467.6) scale(0.9 1)" font-size="6.8" text-anchor="middle" fill="#eaf0fa" stroke="#eaf0fa" stroke-width="0.15">CBL hom</text>
<text transform="translate(42.6 508.4) scale(0.9 1)" font-size="6.8" text-anchor="middle" fill="#25251c" stroke="#25251c" stroke-width="0.15">WT</text>
<text transform="translate(91.2 534.5) scale(0.9 1)" font-size="6.8" text-anchor="middle" fill="#25251c" stroke="#25251c" stroke-width="0.15">TET2</text>
<text transform="translate(123.5 536.8) scale(0.9 1)" font-size="6.8" text-anchor="middle" fill="#40201c" stroke="#40201c" stroke-width="0.15">JAK2 het</text>
<text transform="translate(160 545.3) scale(0.9 1)" font-size="6.8" text-anchor="middle" fill="#16304c" stroke="#16304c" stroke-width="0.15">EZH2</text>
<text transform="translate(211 551.5) scale(0.9 1)" font-size="6.8" text-anchor="middle" fill="#f6e4e0" stroke="#f6e4e0" stroke-width="0.15">JAK2 hom</text>
<text transform="translate(42.8 578.2) scale(0.9 1)" font-size="6.8" text-anchor="middle" fill="#25251c" stroke="#25251c" stroke-width="0.15">WT</text>
<text transform="translate(96.3 579) scale(0.9 1)" font-size="6.8" text-anchor="middle" fill="#25251c" stroke="#25251c" stroke-width="0.15">JAK2-V617F het</text>
<text transform="translate(100.5 604.3) scale(0.9 1)" font-size="6.8" text-anchor="middle" fill="#25251c" stroke="#25251c" stroke-width="0.15">TET2</text>
<text transform="translate(145.4 616.3) scale(0.9 1)" font-size="6.8" text-anchor="middle" fill="#16304c" stroke="#16304c" stroke-width="0.15">EZH2</text>
<line x1="87.7" y1="580.8" x2="87.7" y2="586" stroke="#222" stroke-width="0.8"/>
<text transform="translate(278.1 366.9) scale(0.9 1)" font-size="6.8" text-anchor="middle" fill="#25251c" stroke="#25251c" stroke-width="0.15">WT</text>
<text transform="translate(327.8 375.4) scale(0.9 1)" font-size="6.8" text-anchor="middle" fill="#3a2040" stroke="#3a2040" stroke-width="0.15">ASXL1</text>
<text transform="translate(356.1 382) scale(0.9 1)" font-size="6.8" text-anchor="middle" fill="#16304c" stroke="#16304c" stroke-width="0.15">EZH2 het</text>
<text transform="translate(390.9 389.7) scale(0.9 1)" font-size="6.8" text-anchor="middle" fill="#eaf0fa" stroke="#eaf0fa" stroke-width="0.15">EZH2 hom</text>
<text transform="translate(417.9 395.8) scale(0.9 1)" font-size="6.8" text-anchor="middle" fill="#40201c" stroke="#40201c" stroke-width="0.15">JAK2 het</text>
<text transform="translate(446.5 405.1) scale(0.9 1)" font-size="6.8" text-anchor="middle" fill="#f6e4e0" stroke="#f6e4e0" stroke-width="0.15">JAK2 hom</text>
<text transform="translate(278.5 437.6) scale(0.9 1)" font-size="6.8" text-anchor="middle" fill="#25251c" stroke="#25251c" stroke-width="0.15">WT</text>
<text transform="translate(327.8 447.9) scale(0.9 1)" font-size="6.8" text-anchor="middle" fill="#16304c" stroke="#16304c" stroke-width="0.15">CALR</text>
<text transform="translate(360.8 457.2) scale(0.9 1)" font-size="6.8" text-anchor="middle" fill="#3a2040" stroke="#3a2040" stroke-width="0.15">ASXL1</text>
<text transform="translate(397.3 470.4) scale(0.9 1)" font-size="6.8" text-anchor="middle" fill="#16304c" stroke="#16304c" stroke-width="0.15">EZH2</text>
<text transform="translate(278.8 507.9) scale(0.9 1)" font-size="6.8" text-anchor="middle" fill="#25251c" stroke="#25251c" stroke-width="0.15">WT</text>
<text transform="translate(316 528.4) scale(0.9 1)" font-size="6.8" text-anchor="middle" fill="#16304c" stroke="#16304c" stroke-width="0.15">CALR</text>
<text transform="translate(429.6 523) scale(0.9 1)" font-size="6.8" text-anchor="middle" fill="#25251c" stroke="#25251c" stroke-width="0.15">TET2</text>
<text transform="translate(429.6 548.4) scale(0.9 1)" font-size="6.8" text-anchor="middle" fill="#25251c" stroke="#25251c" stroke-width="0.15">TET2</text>
<text transform="translate(278.1 578.2) scale(0.9 1)" font-size="6.8" text-anchor="middle" fill="#25251c" stroke="#25251c" stroke-width="0.15">WT</text>
<text transform="translate(317.3 590.5) scale(0.9 1)" font-size="6.8" text-anchor="middle" fill="#40201c" stroke="#40201c" stroke-width="0.15">JAK2</text>
<text transform="translate(317.2 616.6) scale(0.9 1)" font-size="6.8" text-anchor="middle" fill="#14300c" stroke="#14300c" stroke-width="0.15">DNMT3A</text>
<text transform="translate(370 620.6) scale(0.9 1)" font-size="6.8" text-anchor="middle" fill="#25251c" stroke="#25251c" stroke-width="0.15">TET2</text>
<text transform="translate(317.3 628.3) scale(0.9 1)" font-size="6.8" text-anchor="middle" fill="#16304c" stroke="#16304c" stroke-width="0.15">CALR</text>
<line x1="229" y1="355.5" x2="229" y2="625.2" stroke="#111" stroke-width="1.25" stroke-dasharray="3.6 3"/>
<line x1="464.1" y1="355.5" x2="464.1" y2="489" stroke="#111" stroke-width="1.25" stroke-dasharray="3.6 3"/>
<line x1="472.8" y1="497" x2="472.8" y2="649" stroke="#c01c28" stroke-width="1.25" stroke-dasharray="3.6 3"/>
<line x1="339.3" y1="569" x2="339.3" y2="637.4" stroke="#111" stroke-width="1.25" stroke-dasharray="3.6 3"/>
<line x1="33" y1="638.9" x2="240" y2="638.9" stroke="#222" stroke-width="1.4"/><polygon points="238.4,636.2 247.8,638.9 238.4,641.6" fill="#111"/>
<text x="140.5" y="651.8" font-size="10.7" text-anchor="middle" fill="#1a1a1a" font-weight="normal" stroke="#1a1a1a" stroke-width="0.22" >disease evolution</text>
<text x="328.6" y="645.4" font-size="10.8" text-anchor="middle" fill="#1a1a1a" font-weight="normal" stroke="#1a1a1a" stroke-width="0.22" >at diagnosis</text>
<text x="328.6" y="655.6" font-size="9" text-anchor="middle" fill="#1a1a1a" font-weight="normal" stroke="#1a1a1a" stroke-width="0.22" >(GRA: 20%VF, 14%CALR)</text>
<text x="462.4" y="645.4" font-size="10.8" text-anchor="middle" fill="#b01c30" font-weight="normal" stroke="#b01c30" stroke-width="0.22" >most recent</text>
<text x="462.4" y="657" font-size="10.8" text-anchor="middle" fill="#b01c30" font-weight="normal" stroke="#b01c30" stroke-width="0.22" >sample</text>
</svg>
</body></html>
